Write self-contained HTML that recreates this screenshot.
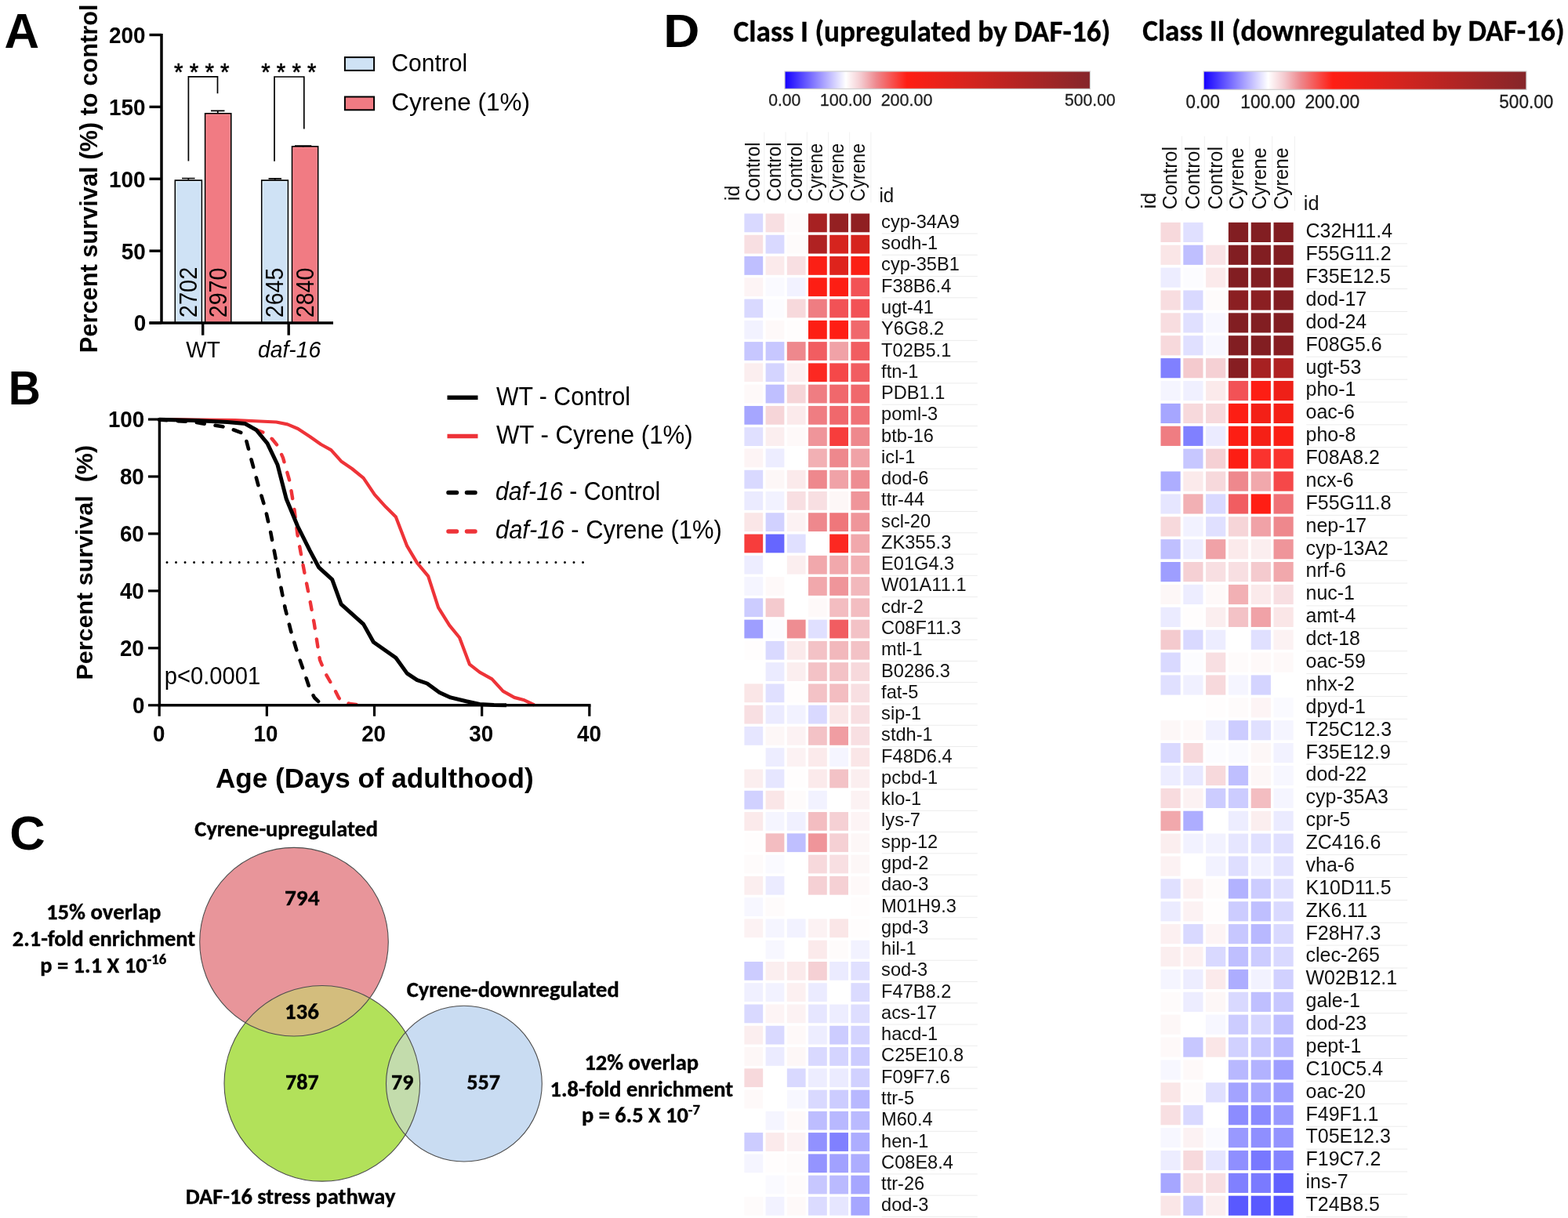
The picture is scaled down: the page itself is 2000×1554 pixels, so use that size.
<!DOCTYPE html>
<html><head><meta charset="utf-8"><title>Figure</title>
<style>html,body{margin:0;padding:0;background:#fff;width:2000px;height:1554px;overflow:hidden}svg{display:block}</style>
</head><body>
<svg width="2000" height="1554" viewBox="0 0 2000 1554">
<defs>
<linearGradient id="cb" x1="0" x2="1" y1="0" y2="0"><stop offset="0" stop-color="#1400ff"/><stop offset="0.2" stop-color="#ffffff"/><stop offset="0.25" stop-color="#f4cacf"/><stop offset="0.3" stop-color="#ee888d"/><stop offset="0.4" stop-color="#ff1e14"/><stop offset="0.6" stop-color="#d6241e"/><stop offset="1" stop-color="#85262a"/></linearGradient>
</defs>
<rect x="0" y="0" width="2000" height="1554" fill="#ffffff"/>
<text x="5.56" y="61.2" font-family="'Liberation Sans', Arial, Helvetica, sans-serif" font-size="63.5" font-weight="bold" textLength="44.55" lengthAdjust="spacingAndGlyphs" xml:space="preserve">A</text>
<text x="10.64" y="516.4" font-family="'Liberation Sans', Arial, Helvetica, sans-serif" font-size="60.5" font-weight="bold" textLength="41.1" lengthAdjust="spacingAndGlyphs" xml:space="preserve">B</text>
<text x="12.22" y="1083.6" font-family="'Liberation Sans', Arial, Helvetica, sans-serif" font-size="60.5" font-weight="bold" textLength="45.45" lengthAdjust="spacingAndGlyphs" xml:space="preserve">C</text>
<text x="846.17" y="60" font-family="'Liberation Sans', Arial, Helvetica, sans-serif" font-size="59" font-weight="bold" textLength="46.16" lengthAdjust="spacingAndGlyphs" xml:space="preserve">D</text>
<rect x="223.4" y="230.09" width="33.9" height="181.91" fill="#cfe2f5" stroke="#000" stroke-width="1.7"/>
<rect x="224.9" y="231.59" width="30.9" height="178.91" fill="none" stroke="#e4f3fe" stroke-width="1.1"/>
<rect x="261.7" y="144.83" width="33" height="267.17" fill="#f17b83" stroke="#000" stroke-width="1.7"/>
<rect x="263.2" y="146.33" width="30" height="264.17" fill="none" stroke="#ff8d95" stroke-width="1.1"/>
<rect x="333.8" y="230.09" width="33.5" height="181.91" fill="#cfe2f5" stroke="#000" stroke-width="1.7"/>
<rect x="335.3" y="231.59" width="30.5" height="178.91" fill="none" stroke="#e4f3fe" stroke-width="1.1"/>
<rect x="372.6" y="186.91" width="33" height="225.09" fill="#f17b83" stroke="#000" stroke-width="1.7"/>
<rect x="374.1" y="188.41" width="30" height="222.09" fill="none" stroke="#ff8d95" stroke-width="1.1"/>
<path d="M232,227.5 H248.6 M240.3,227.5 V229.5" stroke="#000" stroke-width="1.7" fill="none"/>
<path d="M269,141.3 H286.5 M277.75,141.3 V144" stroke="#000" stroke-width="1.7" fill="none"/>
<path d="M342.5,227.8 H359 M350.75,227.8 V229.5" stroke="#000" stroke-width="1.7" fill="none"/>
<path d="M376,186.2 H397.3 M386.65,186.2 V187.5" stroke="#000" stroke-width="1.7" fill="none"/>
<text transform="translate(251.25,405.15) rotate(-90)" font-family="'Liberation Sans', Arial, Helvetica, sans-serif" font-size="30.5" textLength="64.41" lengthAdjust="spacingAndGlyphs" xml:space="preserve">2702</text>
<text transform="translate(289.1,405.13) rotate(-90)" font-family="'Liberation Sans', Arial, Helvetica, sans-serif" font-size="30.5" textLength="63.44" lengthAdjust="spacingAndGlyphs" xml:space="preserve">2970</text>
<text transform="translate(361.45,405.13) rotate(-90)" font-family="'Liberation Sans', Arial, Helvetica, sans-serif" font-size="30.5" textLength="63.44" lengthAdjust="spacingAndGlyphs" xml:space="preserve">2645</text>
<text transform="translate(400,405.13) rotate(-90)" font-family="'Liberation Sans', Arial, Helvetica, sans-serif" font-size="30.5" textLength="63.44" lengthAdjust="spacingAndGlyphs" xml:space="preserve">2840</text>
<path d="M206,43 V413.7 M190.5,412 H425" stroke="#000" stroke-width="3.5" fill="none"/>
<line x1="190.5" y1="412" x2="206" y2="412" stroke="#000" stroke-width="3.4"/>
<line x1="190.5" y1="320.12" x2="206" y2="320.12" stroke="#000" stroke-width="3.4"/>
<line x1="190.5" y1="228.25" x2="206" y2="228.25" stroke="#000" stroke-width="3.4"/>
<line x1="190.5" y1="136.38" x2="206" y2="136.38" stroke="#000" stroke-width="3.4"/>
<line x1="190.5" y1="44.5" x2="206" y2="44.5" stroke="#000" stroke-width="3.4"/>
<line x1="258.7" y1="412" x2="258.7" y2="427.7" stroke="#000" stroke-width="3.4"/>
<line x1="368.2" y1="412" x2="368.2" y2="427.7" stroke="#000" stroke-width="3.4"/>
<text x="170.76" y="422.4" font-family="'Liberation Sans', Arial, Helvetica, sans-serif" font-size="29.8" font-weight="bold" textLength="15.52" lengthAdjust="spacingAndGlyphs" xml:space="preserve">0</text>
<text x="154.85" y="330.52" font-family="'Liberation Sans', Arial, Helvetica, sans-serif" font-size="29.8" font-weight="bold" textLength="31.03" lengthAdjust="spacingAndGlyphs" xml:space="preserve">50</text>
<text x="138.94" y="238.65" font-family="'Liberation Sans', Arial, Helvetica, sans-serif" font-size="29.8" font-weight="bold" textLength="46.54" lengthAdjust="spacingAndGlyphs" xml:space="preserve">100</text>
<text x="138.94" y="146.78" font-family="'Liberation Sans', Arial, Helvetica, sans-serif" font-size="29.8" font-weight="bold" textLength="46.54" lengthAdjust="spacingAndGlyphs" xml:space="preserve">150</text>
<text x="138.94" y="54.9" font-family="'Liberation Sans', Arial, Helvetica, sans-serif" font-size="29.8" font-weight="bold" textLength="46.54" lengthAdjust="spacingAndGlyphs" xml:space="preserve">200</text>
<text x="237.3" y="456.3" font-family="'Liberation Sans', Arial, Helvetica, sans-serif" font-size="29.5" textLength="43.53" lengthAdjust="spacingAndGlyphs" xml:space="preserve">WT</text>
<text x="329.04" y="456.3" font-family="'Liberation Sans', Arial, Helvetica, sans-serif" font-size="29.5" font-style="italic" textLength="80.09" lengthAdjust="spacingAndGlyphs" xml:space="preserve">daf-16</text>
<text transform="translate(124.3,450.25) rotate(-90)" font-family="'Liberation Sans', Arial, Helvetica, sans-serif" font-size="31.5" font-weight="bold" textLength="444.82" lengthAdjust="spacingAndGlyphs" xml:space="preserve">Percent survival (%) to control</text>
<path d="M240.4,205.5 V97.8 H277.5 V119.2 M350,205.8 V98 H387.8 V164.5" stroke="#000" stroke-width="1.7" fill="none"/>
<text x="222.03" y="102.8" font-family="'Liberation Sans', Arial, Helvetica, sans-serif" font-size="30.5" stroke="#000" stroke-width="0.6" textLength="70.54" lengthAdjust="spacingAndGlyphs" xml:space="preserve">* * * *</text>
<text x="333.34" y="102.8" font-family="'Liberation Sans', Arial, Helvetica, sans-serif" font-size="30.5" stroke="#000" stroke-width="0.6" textLength="70.03" lengthAdjust="spacingAndGlyphs" xml:space="preserve">* * * *</text>
<rect x="439.9" y="73.1" width="37.2" height="16.8" fill="#cfe2f5" stroke="#000" stroke-width="2"/>
<rect x="439.9" y="123.5" width="37.2" height="16.8" fill="#f17b83" stroke="#000" stroke-width="2"/>
<text x="499.26" y="91.3" font-family="'Liberation Sans', Arial, Helvetica, sans-serif" font-size="31" textLength="96.92" lengthAdjust="spacingAndGlyphs" xml:space="preserve">Control</text>
<text x="499.17" y="141" font-family="'Liberation Sans', Arial, Helvetica, sans-serif" font-size="31" textLength="176.87" lengthAdjust="spacingAndGlyphs" xml:space="preserve">Cyrene (1%)</text>
<line x1="213" y1="717.42" x2="745" y2="717.42" stroke="#000" stroke-width="3" stroke-linecap="round" stroke-dasharray="0 11.533"/>
<polyline points="203,535 300,536 352.4,538.5 366.7,541.4 380,547 395.2,557 409.4,567 422.3,574.1 435.1,588.4 449,598 463.6,609.8 477.9,631.1 492.1,646.8 504.9,659.6 519.2,696.7 532,718.1 546.2,735.2 559.1,775.1 573.3,797.9 586.1,813.5 599,847.7 611.8,857.7 627.5,866.3 641.7,881.9 656,889.9 668.8,893.3 681.6,899.5" fill="none" stroke="#ee3338" stroke-width="4.2" stroke-linejoin="round"/>
<polyline points="326,548 336.8,552 347,560 353.9,568.4 361,584.1 369.5,614 375.2,648.2 379.5,682.4 385.2,713.8 389.5,736.6 395.2,765.1 400.9,796.4 408,842 415.1,859.1 426.5,879.1 432,890 435.1,894.5 446.5,898 460.7,899.5" fill="none" stroke="#ee3338" stroke-width="4.4" stroke-linejoin="round" stroke-linecap="round" stroke-dasharray="10 14"/>
<polyline points="203,535.5 247,538.5 284,544.2 298.3,548.5 309.7,552.8 314,561.3 321.1,588.4 329.6,619.7 338.2,648.2 345.3,679.6 352.4,716.6 358.1,748 363.8,776.5 371,805 379.5,833.5 389.5,862 395.2,879.1 401,890 406.6,895.5 418,899.5" fill="none" stroke="#000" stroke-width="4.6" stroke-linejoin="round" stroke-linecap="round" stroke-dasharray="10 14"/>
<polyline points="203,535.2 250,536.5 290,538.5 312.5,540.5 326.8,548.5 341,565.6 353.9,592.7 365.3,636.8 379.5,671 395.2,702.4 406.6,723.8 423.7,739.4 435.1,770.8 463.6,796.4 476.4,819.2 504.9,839.2 519.2,859.1 532,867.7 544.8,872 560.5,883.4 574.7,889.9 594.7,894.8 611.8,898.5 630,899.5 646,899.8" fill="none" stroke="#000" stroke-width="5" stroke-linejoin="round"/>
<path d="M203.4,533.5 V901.5 M201.7,899.8 H753.5" stroke="#000" stroke-width="3.4" fill="none"/>
<line x1="189" y1="899.8" x2="203.4" y2="899.8" stroke="#000" stroke-width="3.2"/>
<line x1="189" y1="826.85" x2="203.4" y2="826.85" stroke="#000" stroke-width="3.2"/>
<line x1="189" y1="753.9" x2="203.4" y2="753.9" stroke="#000" stroke-width="3.2"/>
<line x1="189" y1="680.95" x2="203.4" y2="680.95" stroke="#000" stroke-width="3.2"/>
<line x1="189" y1="608" x2="203.4" y2="608" stroke="#000" stroke-width="3.2"/>
<line x1="189" y1="535.05" x2="203.4" y2="535.05" stroke="#000" stroke-width="3.2"/>
<line x1="203.2" y1="899.8" x2="203.2" y2="913.8" stroke="#000" stroke-width="3.2"/>
<line x1="340.35" y1="899.8" x2="340.35" y2="913.8" stroke="#000" stroke-width="3.2"/>
<line x1="477.5" y1="899.8" x2="477.5" y2="913.8" stroke="#000" stroke-width="3.2"/>
<line x1="614.65" y1="899.8" x2="614.65" y2="913.8" stroke="#000" stroke-width="3.2"/>
<line x1="751.8" y1="899.8" x2="751.8" y2="913.8" stroke="#000" stroke-width="3.2"/>
<text x="168.9" y="910.1" font-family="'Liberation Sans', Arial, Helvetica, sans-serif" font-size="29.5" font-weight="bold" textLength="15.44" lengthAdjust="spacingAndGlyphs" xml:space="preserve">0</text>
<text x="152.92" y="837.15" font-family="'Liberation Sans', Arial, Helvetica, sans-serif" font-size="29.5" font-weight="bold" textLength="30.86" lengthAdjust="spacingAndGlyphs" xml:space="preserve">20</text>
<text x="152.92" y="764.2" font-family="'Liberation Sans', Arial, Helvetica, sans-serif" font-size="29.5" font-weight="bold" textLength="30.86" lengthAdjust="spacingAndGlyphs" xml:space="preserve">40</text>
<text x="152.92" y="691.25" font-family="'Liberation Sans', Arial, Helvetica, sans-serif" font-size="29.5" font-weight="bold" textLength="30.86" lengthAdjust="spacingAndGlyphs" xml:space="preserve">60</text>
<text x="152.92" y="618.3" font-family="'Liberation Sans', Arial, Helvetica, sans-serif" font-size="29.5" font-weight="bold" textLength="30.86" lengthAdjust="spacingAndGlyphs" xml:space="preserve">80</text>
<text x="137.88" y="545.35" font-family="'Liberation Sans', Arial, Helvetica, sans-serif" font-size="29.5" font-weight="bold" textLength="46.28" lengthAdjust="spacingAndGlyphs" xml:space="preserve">100</text>
<text x="194.88" y="945.75" font-family="'Liberation Sans', Arial, Helvetica, sans-serif" font-size="29.5" font-weight="bold" textLength="15.44" lengthAdjust="spacingAndGlyphs" xml:space="preserve">0</text>
<text x="323.57" y="945.75" font-family="'Liberation Sans', Arial, Helvetica, sans-serif" font-size="29.5" font-weight="bold" textLength="30.86" lengthAdjust="spacingAndGlyphs" xml:space="preserve">10</text>
<text x="461.19" y="945.75" font-family="'Liberation Sans', Arial, Helvetica, sans-serif" font-size="29.5" font-weight="bold" textLength="30.86" lengthAdjust="spacingAndGlyphs" xml:space="preserve">20</text>
<text x="598.34" y="945.75" font-family="'Liberation Sans', Arial, Helvetica, sans-serif" font-size="29.5" font-weight="bold" textLength="30.86" lengthAdjust="spacingAndGlyphs" xml:space="preserve">30</text>
<text x="735.96" y="945.75" font-family="'Liberation Sans', Arial, Helvetica, sans-serif" font-size="29.5" font-weight="bold" textLength="30.86" lengthAdjust="spacingAndGlyphs" xml:space="preserve">40</text>
<text x="275" y="1005.3" font-family="'Liberation Sans', Arial, Helvetica, sans-serif" font-size="35" font-weight="bold" textLength="405.64" lengthAdjust="spacingAndGlyphs" xml:space="preserve">Age (Days of adulthood)</text>
<text transform="translate(118.2,867.51) rotate(-90)" font-family="'Liberation Sans', Arial, Helvetica, sans-serif" font-size="30.3" font-weight="bold" textLength="299.56" lengthAdjust="spacingAndGlyphs" xml:space="preserve">Percent survival  (%)</text>
<text x="209.79" y="872.9" font-family="'Liberation Sans', Arial, Helvetica, sans-serif" font-size="32.2" textLength="122.46" lengthAdjust="spacingAndGlyphs" xml:space="preserve">p&lt;0.0001</text>
<line x1="570.5" y1="507.3" x2="609.5" y2="507.3" stroke="#000" stroke-width="5.5"/>
<line x1="570.5" y1="556.4" x2="609.5" y2="556.4" stroke="#ee3338" stroke-width="5.5"/>
<line x1="572" y1="628.6" x2="608" y2="628.6" stroke="#000" stroke-width="5.5" stroke-linecap="round" stroke-dasharray="10.5 13"/>
<line x1="572" y1="678" x2="608" y2="678" stroke="#ee3338" stroke-width="5.5" stroke-linecap="round" stroke-dasharray="10.5 13"/>
<text x="632.9" y="516.7" font-family="'Liberation Sans', Arial, Helvetica, sans-serif" font-size="32.5" textLength="171.12" lengthAdjust="spacingAndGlyphs" xml:space="preserve">WT - Control</text>
<text x="632.9" y="565.8" font-family="'Liberation Sans', Arial, Helvetica, sans-serif" font-size="32.5" textLength="250.76" lengthAdjust="spacingAndGlyphs" xml:space="preserve">WT - Cyrene (1%)</text>
<text x="631.97" y="638" font-family="'Liberation Sans', Arial, Helvetica, sans-serif" font-size="32.5" textLength="210.32" lengthAdjust="spacingAndGlyphs" xml:space="preserve"><tspan font-style="italic">daf-16</tspan> - Control</text>
<text x="631.95" y="687" font-family="'Liberation Sans', Arial, Helvetica, sans-serif" font-size="32.5" textLength="288.95" lengthAdjust="spacingAndGlyphs" xml:space="preserve"><tspan font-style="italic">daf-16</tspan> - Cyrene (1%)</text>
<defs><clipPath id="cg"><circle cx="410.8" cy="1382.35" r="124.8"/></clipPath></defs>
<circle cx="410.8" cy="1382.35" r="124.8" fill="#b2e15a"/>
<circle cx="591.9" cy="1382.6" r="99.4" fill="#c9dcf2"/>
<circle cx="375.0" cy="1201.7" r="120.3" fill="#e8959a"/>
<circle cx="375.0" cy="1201.7" r="120.3" fill="#d3bd7d" clip-path="url(#cg)"/>
<circle cx="591.9" cy="1382.6" r="99.4" fill="#c3dcac" clip-path="url(#cg)"/>
<circle cx="375.0" cy="1201.7" r="120.3" fill="none" stroke="#4d4d4d" stroke-width="1.1"/>
<circle cx="410.8" cy="1382.35" r="124.8" fill="none" stroke="#4d4d4d" stroke-width="1.1"/>
<circle cx="591.9" cy="1382.6" r="99.4" fill="none" stroke="#4d4d4d" stroke-width="1.1"/>
<text x="248.37" y="1066.5" font-family="Carlito, Calibri, 'Liberation Sans', sans-serif" font-size="27.5" font-weight="bold" stroke="#000" stroke-width="0.35" textLength="233.68" lengthAdjust="spacingAndGlyphs" xml:space="preserve">Cyrene-upregulated</text>
<text x="362.95" y="1154.8" font-family="Carlito, Calibri, 'Liberation Sans', sans-serif" font-size="28" font-weight="bold" stroke="#000" stroke-width="0.35" textLength="44.55" lengthAdjust="spacingAndGlyphs" xml:space="preserve">794</text>
<text x="362.94" y="1299.5" font-family="Carlito, Calibri, 'Liberation Sans', sans-serif" font-size="28" font-weight="bold" stroke="#000" stroke-width="0.35" textLength="43.91" lengthAdjust="spacingAndGlyphs" xml:space="preserve">136</text>
<text x="364" y="1390" font-family="Carlito, Calibri, 'Liberation Sans', sans-serif" font-size="28" font-weight="bold" stroke="#000" stroke-width="0.35" textLength="42.58" lengthAdjust="spacingAndGlyphs" xml:space="preserve">787</text>
<text x="499" y="1390" font-family="Carlito, Calibri, 'Liberation Sans', sans-serif" font-size="28" font-weight="bold" stroke="#000" stroke-width="0.35" textLength="28.39" lengthAdjust="spacingAndGlyphs" xml:space="preserve">79</text>
<text x="595.24" y="1390" font-family="Carlito, Calibri, 'Liberation Sans', sans-serif" font-size="28" font-weight="bold" stroke="#000" stroke-width="0.35" textLength="42.84" lengthAdjust="spacingAndGlyphs" xml:space="preserve">557</text>
<text x="518.76" y="1271.5" font-family="Carlito, Calibri, 'Liberation Sans', sans-serif" font-size="27.5" font-weight="bold" stroke="#000" stroke-width="0.35" textLength="270.93" lengthAdjust="spacingAndGlyphs" xml:space="preserve">Cyrene-downregulated</text>
<text x="236.68" y="1536.25" font-family="Carlito, Calibri, 'Liberation Sans', sans-serif" font-size="27.5" font-weight="bold" stroke="#000" stroke-width="0.35" textLength="267.7" lengthAdjust="spacingAndGlyphs" xml:space="preserve">DAF-16 stress pathway</text>
<text x="59.01" y="1173" font-family="Carlito, Calibri, 'Liberation Sans', sans-serif" font-size="27.5" font-weight="bold" stroke="#000" stroke-width="0.35" textLength="146.46" lengthAdjust="spacingAndGlyphs" xml:space="preserve">15% overlap</text>
<text x="15.87" y="1206.8" font-family="Carlito, Calibri, 'Liberation Sans', sans-serif" font-size="27.5" font-weight="bold" stroke="#000" stroke-width="0.35" textLength="233.35" lengthAdjust="spacingAndGlyphs" xml:space="preserve">2.1-fold enrichment</text>
<text x="51.23" y="1240.6" font-family="Carlito, Calibri, 'Liberation Sans', sans-serif" font-size="27.5" font-weight="bold" stroke="#000" stroke-width="0.35" textLength="161.03" lengthAdjust="spacingAndGlyphs" xml:space="preserve">p = 1.1 X 10<tspan font-size="18" dy="-10.5">-16</tspan></text>
<text x="745.42" y="1364.9" font-family="Carlito, Calibri, 'Liberation Sans', sans-serif" font-size="27.5" font-weight="bold" stroke="#000" stroke-width="0.35" textLength="145.64" lengthAdjust="spacingAndGlyphs" xml:space="preserve">12% overlap</text>
<text x="701.53" y="1398.6" font-family="Carlito, Calibri, 'Liberation Sans', sans-serif" font-size="27.5" font-weight="bold" stroke="#000" stroke-width="0.35" textLength="233.69" lengthAdjust="spacingAndGlyphs" xml:space="preserve">1.8-fold enrichment</text>
<text x="742.04" y="1432.4" font-family="Carlito, Calibri, 'Liberation Sans', sans-serif" font-size="27.5" font-weight="bold" stroke="#000" stroke-width="0.35" textLength="150.89" lengthAdjust="spacingAndGlyphs" xml:space="preserve">p = 6.5 X 10<tspan font-size="18" dy="-10.5">-7</tspan></text>
<text x="935.6" y="52.5" font-family="Carlito, Calibri, 'Liberation Sans', sans-serif" font-size="37.3" font-weight="bold" stroke="#000" stroke-width="0.3" textLength="480.77" lengthAdjust="spacingAndGlyphs" xml:space="preserve">Class I (upregulated by DAF-16)</text>
<rect x="1001" y="91" width="389.5" height="22.4" fill="url(#cb)" stroke="#cfcfcf" stroke-width="1.2"/>
<text x="980.26" y="135.3" font-family="'Liberation Sans', Arial, Helvetica, sans-serif" font-size="22.5" fill="#1e1e1e" stroke="#1e1e1e" stroke-width="0.3" textLength="41.09" lengthAdjust="spacingAndGlyphs" xml:space="preserve">0.00</text>
<text x="1045.68" y="135.3" font-family="'Liberation Sans', Arial, Helvetica, sans-serif" font-size="22.5" fill="#1e1e1e" stroke="#1e1e1e" stroke-width="0.3" textLength="66.22" lengthAdjust="spacingAndGlyphs" xml:space="preserve">100.00</text>
<text x="1123.64" y="135.3" font-family="'Liberation Sans', Arial, Helvetica, sans-serif" font-size="22.5" fill="#1e1e1e" stroke="#1e1e1e" stroke-width="0.3" textLength="65.85" lengthAdjust="spacingAndGlyphs" xml:space="preserve">200.00</text>
<text x="1358.06" y="135.3" font-family="'Liberation Sans', Arial, Helvetica, sans-serif" font-size="22.5" fill="#1e1e1e" stroke="#1e1e1e" stroke-width="0.3" textLength="64.72" lengthAdjust="spacingAndGlyphs" xml:space="preserve">500.00</text>
<line x1="974.9" y1="168.5" x2="974.9" y2="258.5" stroke="#f1f1f1" stroke-width="1"/>
<line x1="1002.1" y1="168.5" x2="1002.1" y2="258.5" stroke="#f1f1f1" stroke-width="1"/>
<line x1="1029.3" y1="168.5" x2="1029.3" y2="258.5" stroke="#f1f1f1" stroke-width="1"/>
<line x1="1056.5" y1="168.5" x2="1056.5" y2="258.5" stroke="#f1f1f1" stroke-width="1"/>
<line x1="1083.7" y1="168.5" x2="1083.7" y2="258.5" stroke="#f1f1f1" stroke-width="1"/>
<line x1="1110.9" y1="168.5" x2="1110.9" y2="258.5" stroke="#f1f1f1" stroke-width="1"/>
<text transform="translate(968.7,256.94) rotate(-90)" font-family="'Liberation Sans', Arial, Helvetica, sans-serif" font-size="25" fill="#111" textLength="75.43" lengthAdjust="spacingAndGlyphs" xml:space="preserve">Control</text>
<text transform="translate(995.9,256.94) rotate(-90)" font-family="'Liberation Sans', Arial, Helvetica, sans-serif" font-size="25" fill="#111" textLength="75.43" lengthAdjust="spacingAndGlyphs" xml:space="preserve">Control</text>
<text transform="translate(1023.1,256.94) rotate(-90)" font-family="'Liberation Sans', Arial, Helvetica, sans-serif" font-size="25" fill="#111" textLength="75.43" lengthAdjust="spacingAndGlyphs" xml:space="preserve">Control</text>
<text transform="translate(1048.9,256.92) rotate(-90)" font-family="'Liberation Sans', Arial, Helvetica, sans-serif" font-size="25" fill="#111" textLength="73.96" lengthAdjust="spacingAndGlyphs" xml:space="preserve">Cyrene</text>
<text transform="translate(1076.1,256.92) rotate(-90)" font-family="'Liberation Sans', Arial, Helvetica, sans-serif" font-size="25" fill="#111" textLength="73.96" lengthAdjust="spacingAndGlyphs" xml:space="preserve">Cyrene</text>
<text transform="translate(1103.3,256.92) rotate(-90)" font-family="'Liberation Sans', Arial, Helvetica, sans-serif" font-size="25" fill="#111" textLength="73.96" lengthAdjust="spacingAndGlyphs" xml:space="preserve">Cyrene</text>
<text transform="translate(943.2,256.22) rotate(-90)" font-family="'Liberation Sans', Arial, Helvetica, sans-serif" font-size="25" fill="#111" textLength="19.71" lengthAdjust="spacingAndGlyphs" xml:space="preserve">id</text>
<text x="1121.47" y="257.8" font-family="'Liberation Sans', Arial, Helvetica, sans-serif" font-size="25" fill="#111" textLength="18.74" lengthAdjust="spacingAndGlyphs" xml:space="preserve">id</text>
<rect x="949.4" y="272.5" width="23.8" height="23.8" fill="#d9d9ff"/>
<rect x="976.6" y="272.5" width="23.8" height="23.8" fill="#f8dfe2"/>
<rect x="1003.8" y="272.5" width="23.8" height="23.8" fill="#fefbfb"/>
<rect x="1031" y="272.5" width="23.8" height="23.8" fill="#a72122"/>
<rect x="1058.2" y="272.5" width="23.8" height="23.8" fill="#942022"/>
<rect x="1085.4" y="272.5" width="23.8" height="23.8" fill="#901f22"/>
<rect x="949.4" y="299.77" width="23.8" height="23.8" fill="#f8dfe2"/>
<rect x="976.6" y="299.77" width="23.8" height="23.8" fill="#d9d9ff"/>
<rect x="1003.8" y="299.77" width="23.8" height="23.8" fill="#fefbfb"/>
<rect x="1031" y="299.77" width="23.8" height="23.8" fill="#b02222"/>
<rect x="1058.2" y="299.77" width="23.8" height="23.8" fill="#d6241e"/>
<rect x="1085.4" y="299.77" width="23.8" height="23.8" fill="#d6241e"/>
<rect x="949.4" y="327.04" width="23.8" height="23.8" fill="#bfbfff"/>
<rect x="976.6" y="327.04" width="23.8" height="23.8" fill="#fbeaeb"/>
<rect x="1003.8" y="327.04" width="23.8" height="23.8" fill="#f8dfe2"/>
<rect x="1031" y="327.04" width="23.8" height="23.8" fill="#fb1f15"/>
<rect x="1058.2" y="327.04" width="23.8" height="23.8" fill="#de231c"/>
<rect x="1085.4" y="327.04" width="23.8" height="23.8" fill="#fb1f15"/>
<rect x="949.4" y="354.31" width="23.8" height="23.8" fill="#fdf4f5"/>
<rect x="976.6" y="354.31" width="23.8" height="23.8" fill="#fafaff"/>
<rect x="1003.8" y="354.31" width="23.8" height="23.8" fill="#f2f2ff"/>
<rect x="1031" y="354.31" width="23.8" height="23.8" fill="#fd1e14"/>
<rect x="1058.2" y="354.31" width="23.8" height="23.8" fill="#fd1e14"/>
<rect x="1085.4" y="354.31" width="23.8" height="23.8" fill="#f25256"/>
<rect x="949.4" y="381.58" width="23.8" height="23.8" fill="#d9d9ff"/>
<rect x="976.6" y="381.58" width="23.8" height="23.8" fill="#fcfcff"/>
<rect x="1003.8" y="381.58" width="23.8" height="23.8" fill="#f7d9dc"/>
<rect x="1031" y="381.58" width="23.8" height="23.8" fill="#ef7d82"/>
<rect x="1058.2" y="381.58" width="23.8" height="23.8" fill="#f25256"/>
<rect x="1085.4" y="381.58" width="23.8" height="23.8" fill="#f25256"/>
<rect x="949.4" y="408.85" width="23.8" height="23.8" fill="#f2f2ff"/>
<rect x="976.6" y="408.85" width="23.8" height="23.8" fill="#fef9f9"/>
<rect x="1003.8" y="408.85" width="23.8" height="23.8" fill="#fffdfd"/>
<rect x="1031" y="408.85" width="23.8" height="23.8" fill="#fd1e14"/>
<rect x="1058.2" y="408.85" width="23.8" height="23.8" fill="#ff1e14"/>
<rect x="1085.4" y="408.85" width="23.8" height="23.8" fill="#f0686c"/>
<rect x="949.4" y="436.12" width="23.8" height="23.8" fill="#c7c7ff"/>
<rect x="976.6" y="436.12" width="23.8" height="23.8" fill="#c7c7ff"/>
<rect x="1003.8" y="436.12" width="23.8" height="23.8" fill="#ee888d"/>
<rect x="1031" y="436.12" width="23.8" height="23.8" fill="#f15d61"/>
<rect x="1058.2" y="436.12" width="23.8" height="23.8" fill="#f0a2a7"/>
<rect x="1085.4" y="436.12" width="23.8" height="23.8" fill="#f15d61"/>
<rect x="949.4" y="463.39" width="23.8" height="23.8" fill="#fbeeef"/>
<rect x="976.6" y="463.39" width="23.8" height="23.8" fill="#d4d4ff"/>
<rect x="1003.8" y="463.39" width="23.8" height="23.8" fill="#fcf0f1"/>
<rect x="1031" y="463.39" width="23.8" height="23.8" fill="#fc2821"/>
<rect x="1058.2" y="463.39" width="23.8" height="23.8" fill="#f54849"/>
<rect x="1085.4" y="463.39" width="23.8" height="23.8" fill="#f15d61"/>
<rect x="949.4" y="490.66" width="23.8" height="23.8" fill="#fef9f9"/>
<rect x="976.6" y="490.66" width="23.8" height="23.8" fill="#bfbfff"/>
<rect x="1003.8" y="490.66" width="23.8" height="23.8" fill="#f6d5d8"/>
<rect x="1031" y="490.66" width="23.8" height="23.8" fill="#ef7d82"/>
<rect x="1058.2" y="490.66" width="23.8" height="23.8" fill="#f0686c"/>
<rect x="1085.4" y="490.66" width="23.8" height="23.8" fill="#f0686c"/>
<rect x="949.4" y="517.93" width="23.8" height="23.8" fill="#a6a6ff"/>
<rect x="976.6" y="517.93" width="23.8" height="23.8" fill="#f6d5d8"/>
<rect x="1003.8" y="517.93" width="23.8" height="23.8" fill="#fbeaeb"/>
<rect x="1031" y="517.93" width="23.8" height="23.8" fill="#ef7d82"/>
<rect x="1058.2" y="517.93" width="23.8" height="23.8" fill="#f0686c"/>
<rect x="1085.4" y="517.93" width="23.8" height="23.8" fill="#f07277"/>
<rect x="949.4" y="545.2" width="23.8" height="23.8" fill="#e0e0ff"/>
<rect x="976.6" y="545.2" width="23.8" height="23.8" fill="#fbeeef"/>
<rect x="1003.8" y="545.2" width="23.8" height="23.8" fill="#fef9f9"/>
<rect x="1031" y="545.2" width="23.8" height="23.8" fill="#ef959a"/>
<rect x="1058.2" y="545.2" width="23.8" height="23.8" fill="#f73d3c"/>
<rect x="1085.4" y="545.2" width="23.8" height="23.8" fill="#ee888d"/>
<rect x="949.4" y="572.47" width="23.8" height="23.8" fill="#fdf4f5"/>
<rect x="976.6" y="572.47" width="23.8" height="23.8" fill="#ededff"/>
<rect x="1003.8" y="572.47" width="23.8" height="23.8" fill="#ffffff"/>
<rect x="1031" y="572.47" width="23.8" height="23.8" fill="#f2b0b4"/>
<rect x="1058.2" y="572.47" width="23.8" height="23.8" fill="#ee888d"/>
<rect x="1085.4" y="572.47" width="23.8" height="23.8" fill="#f0a2a7"/>
<rect x="949.4" y="599.74" width="23.8" height="23.8" fill="#d9d9ff"/>
<rect x="976.6" y="599.74" width="23.8" height="23.8" fill="#fdf7f7"/>
<rect x="1003.8" y="599.74" width="23.8" height="23.8" fill="#fbeaeb"/>
<rect x="1031" y="599.74" width="23.8" height="23.8" fill="#ee888d"/>
<rect x="1058.2" y="599.74" width="23.8" height="23.8" fill="#f0a2a7"/>
<rect x="1085.4" y="599.74" width="23.8" height="23.8" fill="#ee8d92"/>
<rect x="949.4" y="627.01" width="23.8" height="23.8" fill="#ebebff"/>
<rect x="976.6" y="627.01" width="23.8" height="23.8" fill="#f2f2ff"/>
<rect x="1003.8" y="627.01" width="23.8" height="23.8" fill="#f8dfe2"/>
<rect x="1031" y="627.01" width="23.8" height="23.8" fill="#f8dfe2"/>
<rect x="1058.2" y="627.01" width="23.8" height="23.8" fill="#fdf7f7"/>
<rect x="1085.4" y="627.01" width="23.8" height="23.8" fill="#ef959a"/>
<rect x="949.4" y="654.28" width="23.8" height="23.8" fill="#fae6e7"/>
<rect x="976.6" y="654.28" width="23.8" height="23.8" fill="#d1d1ff"/>
<rect x="1003.8" y="654.28" width="23.8" height="23.8" fill="#fcf2f3"/>
<rect x="1031" y="654.28" width="23.8" height="23.8" fill="#ee888d"/>
<rect x="1058.2" y="654.28" width="23.8" height="23.8" fill="#ef777b"/>
<rect x="1085.4" y="654.28" width="23.8" height="23.8" fill="#ef959a"/>
<rect x="949.4" y="681.55" width="23.8" height="23.8" fill="#f73d3c"/>
<rect x="976.6" y="681.55" width="23.8" height="23.8" fill="#6666ff"/>
<rect x="1003.8" y="681.55" width="23.8" height="23.8" fill="#e0e0ff"/>
<rect x="1031" y="681.55" width="23.8" height="23.8" fill="#ffffff"/>
<rect x="1058.2" y="681.55" width="23.8" height="23.8" fill="#fc2821"/>
<rect x="1085.4" y="681.55" width="23.8" height="23.8" fill="#f1a8ac"/>
<rect x="949.4" y="708.82" width="23.8" height="23.8" fill="#ededff"/>
<rect x="976.6" y="708.82" width="23.8" height="23.8" fill="#ffffff"/>
<rect x="1003.8" y="708.82" width="23.8" height="23.8" fill="#fbeeef"/>
<rect x="1031" y="708.82" width="23.8" height="23.8" fill="#f1a8ac"/>
<rect x="1058.2" y="708.82" width="23.8" height="23.8" fill="#f1a8ac"/>
<rect x="1085.4" y="708.82" width="23.8" height="23.8" fill="#f2b0b4"/>
<rect x="949.4" y="736.09" width="23.8" height="23.8" fill="#f5f5ff"/>
<rect x="976.6" y="736.09" width="23.8" height="23.8" fill="#fef9f9"/>
<rect x="1003.8" y="736.09" width="23.8" height="23.8" fill="#ffffff"/>
<rect x="1031" y="736.09" width="23.8" height="23.8" fill="#f1a8ac"/>
<rect x="1058.2" y="736.09" width="23.8" height="23.8" fill="#ef959a"/>
<rect x="1085.4" y="736.09" width="23.8" height="23.8" fill="#f2b8bc"/>
<rect x="949.4" y="763.36" width="23.8" height="23.8" fill="#ccccff"/>
<rect x="976.6" y="763.36" width="23.8" height="23.8" fill="#f4cace"/>
<rect x="1003.8" y="763.36" width="23.8" height="23.8" fill="#ffffff"/>
<rect x="1031" y="763.36" width="23.8" height="23.8" fill="#fef9f9"/>
<rect x="1058.2" y="763.36" width="23.8" height="23.8" fill="#f3bdc1"/>
<rect x="1085.4" y="763.36" width="23.8" height="23.8" fill="#f3bdc1"/>
<rect x="949.4" y="790.63" width="23.8" height="23.8" fill="#9e9eff"/>
<rect x="976.6" y="790.63" width="23.8" height="23.8" fill="#fcfcff"/>
<rect x="1003.8" y="790.63" width="23.8" height="23.8" fill="#ee8d92"/>
<rect x="1031" y="790.63" width="23.8" height="23.8" fill="#e0e0ff"/>
<rect x="1058.2" y="790.63" width="23.8" height="23.8" fill="#f15d61"/>
<rect x="1085.4" y="790.63" width="23.8" height="23.8" fill="#f3c2c6"/>
<rect x="949.4" y="817.9" width="23.8" height="23.8" fill="#fffdfd"/>
<rect x="976.6" y="817.9" width="23.8" height="23.8" fill="#d9d9ff"/>
<rect x="1003.8" y="817.9" width="23.8" height="23.8" fill="#fbeaeb"/>
<rect x="1031" y="817.9" width="23.8" height="23.8" fill="#f3c2c6"/>
<rect x="1058.2" y="817.9" width="23.8" height="23.8" fill="#f2b8bc"/>
<rect x="1085.4" y="817.9" width="23.8" height="23.8" fill="#f3c2c6"/>
<rect x="949.4" y="845.17" width="23.8" height="23.8" fill="#ffffff"/>
<rect x="976.6" y="845.17" width="23.8" height="23.8" fill="#ebebff"/>
<rect x="1003.8" y="845.17" width="23.8" height="23.8" fill="#fbeeef"/>
<rect x="1031" y="845.17" width="23.8" height="23.8" fill="#f3c2c6"/>
<rect x="1058.2" y="845.17" width="23.8" height="23.8" fill="#f3c2c6"/>
<rect x="1085.4" y="845.17" width="23.8" height="23.8" fill="#f7d9dc"/>
<rect x="949.4" y="872.44" width="23.8" height="23.8" fill="#fae6e7"/>
<rect x="976.6" y="872.44" width="23.8" height="23.8" fill="#e0e0ff"/>
<rect x="1003.8" y="872.44" width="23.8" height="23.8" fill="#fffdfd"/>
<rect x="1031" y="872.44" width="23.8" height="23.8" fill="#f3c2c6"/>
<rect x="1058.2" y="872.44" width="23.8" height="23.8" fill="#f3bdc1"/>
<rect x="1085.4" y="872.44" width="23.8" height="23.8" fill="#f8dfe2"/>
<rect x="949.4" y="899.71" width="23.8" height="23.8" fill="#f8dfe2"/>
<rect x="976.6" y="899.71" width="23.8" height="23.8" fill="#ebebff"/>
<rect x="1003.8" y="899.71" width="23.8" height="23.8" fill="#f2f2ff"/>
<rect x="1031" y="899.71" width="23.8" height="23.8" fill="#d9d9ff"/>
<rect x="1058.2" y="899.71" width="23.8" height="23.8" fill="#fae6e7"/>
<rect x="1085.4" y="899.71" width="23.8" height="23.8" fill="#f8dfe2"/>
<rect x="949.4" y="926.98" width="23.8" height="23.8" fill="#e6e6ff"/>
<rect x="976.6" y="926.98" width="23.8" height="23.8" fill="#fdf7f7"/>
<rect x="1003.8" y="926.98" width="23.8" height="23.8" fill="#fcf2f3"/>
<rect x="1031" y="926.98" width="23.8" height="23.8" fill="#f3c2c6"/>
<rect x="1058.2" y="926.98" width="23.8" height="23.8" fill="#f09da2"/>
<rect x="1085.4" y="926.98" width="23.8" height="23.8" fill="#f8dfe2"/>
<rect x="949.4" y="954.25" width="23.8" height="23.8" fill="#ffffff"/>
<rect x="976.6" y="954.25" width="23.8" height="23.8" fill="#ededff"/>
<rect x="1003.8" y="954.25" width="23.8" height="23.8" fill="#fcf2f3"/>
<rect x="1031" y="954.25" width="23.8" height="23.8" fill="#fbeaeb"/>
<rect x="1058.2" y="954.25" width="23.8" height="23.8" fill="#f5f5ff"/>
<rect x="1085.4" y="954.25" width="23.8" height="23.8" fill="#fae6e7"/>
<rect x="949.4" y="981.52" width="23.8" height="23.8" fill="#fbeeef"/>
<rect x="976.6" y="981.52" width="23.8" height="23.8" fill="#e6e6ff"/>
<rect x="1003.8" y="981.52" width="23.8" height="23.8" fill="#fffdfd"/>
<rect x="1031" y="981.52" width="23.8" height="23.8" fill="#fbeaeb"/>
<rect x="1058.2" y="981.52" width="23.8" height="23.8" fill="#f3c2c6"/>
<rect x="1085.4" y="981.52" width="23.8" height="23.8" fill="#fbeeef"/>
<rect x="949.4" y="1008.79" width="23.8" height="23.8" fill="#d1d1ff"/>
<rect x="976.6" y="1008.79" width="23.8" height="23.8" fill="#fae6e7"/>
<rect x="1003.8" y="1008.79" width="23.8" height="23.8" fill="#fefbfb"/>
<rect x="1031" y="1008.79" width="23.8" height="23.8" fill="#f2f2ff"/>
<rect x="1058.2" y="1008.79" width="23.8" height="23.8" fill="#ffffff"/>
<rect x="1085.4" y="1008.79" width="23.8" height="23.8" fill="#fcf2f3"/>
<rect x="949.4" y="1036.06" width="23.8" height="23.8" fill="#fbeaeb"/>
<rect x="976.6" y="1036.06" width="23.8" height="23.8" fill="#f5f5ff"/>
<rect x="1003.8" y="1036.06" width="23.8" height="23.8" fill="#f0f0ff"/>
<rect x="1031" y="1036.06" width="23.8" height="23.8" fill="#f3bdc1"/>
<rect x="1058.2" y="1036.06" width="23.8" height="23.8" fill="#f5d0d4"/>
<rect x="1085.4" y="1036.06" width="23.8" height="23.8" fill="#fdf4f5"/>
<rect x="949.4" y="1063.33" width="23.8" height="23.8" fill="#fffdfd"/>
<rect x="976.6" y="1063.33" width="23.8" height="23.8" fill="#f3bdc1"/>
<rect x="1003.8" y="1063.33" width="23.8" height="23.8" fill="#bfbfff"/>
<rect x="1031" y="1063.33" width="23.8" height="23.8" fill="#ef959a"/>
<rect x="1058.2" y="1063.33" width="23.8" height="23.8" fill="#f5d0d4"/>
<rect x="1085.4" y="1063.33" width="23.8" height="23.8" fill="#fdf7f7"/>
<rect x="949.4" y="1090.6" width="23.8" height="23.8" fill="#fefbfb"/>
<rect x="976.6" y="1090.6" width="23.8" height="23.8" fill="#fafaff"/>
<rect x="1003.8" y="1090.6" width="23.8" height="23.8" fill="#ffffff"/>
<rect x="1031" y="1090.6" width="23.8" height="23.8" fill="#f7d9dc"/>
<rect x="1058.2" y="1090.6" width="23.8" height="23.8" fill="#f8dfe2"/>
<rect x="1085.4" y="1090.6" width="23.8" height="23.8" fill="#fdf7f7"/>
<rect x="949.4" y="1117.87" width="23.8" height="23.8" fill="#fbeeef"/>
<rect x="976.6" y="1117.87" width="23.8" height="23.8" fill="#ebebff"/>
<rect x="1003.8" y="1117.87" width="23.8" height="23.8" fill="#ffffff"/>
<rect x="1031" y="1117.87" width="23.8" height="23.8" fill="#f5d0d4"/>
<rect x="1058.2" y="1117.87" width="23.8" height="23.8" fill="#f5d0d4"/>
<rect x="1085.4" y="1117.87" width="23.8" height="23.8" fill="#fef9f9"/>
<rect x="949.4" y="1145.14" width="23.8" height="23.8" fill="#f7f7ff"/>
<rect x="976.6" y="1145.14" width="23.8" height="23.8" fill="#fefbfb"/>
<rect x="1003.8" y="1145.14" width="23.8" height="23.8" fill="#ffffff"/>
<rect x="1031" y="1145.14" width="23.8" height="23.8" fill="#ffffff"/>
<rect x="1058.2" y="1145.14" width="23.8" height="23.8" fill="#ffffff"/>
<rect x="1085.4" y="1145.14" width="23.8" height="23.8" fill="#fffdfd"/>
<rect x="949.4" y="1172.41" width="23.8" height="23.8" fill="#fcf2f3"/>
<rect x="976.6" y="1172.41" width="23.8" height="23.8" fill="#f5f5ff"/>
<rect x="1003.8" y="1172.41" width="23.8" height="23.8" fill="#f2f2ff"/>
<rect x="1031" y="1172.41" width="23.8" height="23.8" fill="#fcf2f3"/>
<rect x="1058.2" y="1172.41" width="23.8" height="23.8" fill="#fae6e7"/>
<rect x="1085.4" y="1172.41" width="23.8" height="23.8" fill="#fffdfd"/>
<rect x="949.4" y="1199.68" width="23.8" height="23.8" fill="#ffffff"/>
<rect x="976.6" y="1199.68" width="23.8" height="23.8" fill="#f7f7ff"/>
<rect x="1003.8" y="1199.68" width="23.8" height="23.8" fill="#ffffff"/>
<rect x="1031" y="1199.68" width="23.8" height="23.8" fill="#fbeaeb"/>
<rect x="1058.2" y="1199.68" width="23.8" height="23.8" fill="#fefbfb"/>
<rect x="1085.4" y="1199.68" width="23.8" height="23.8" fill="#f2f2ff"/>
<rect x="949.4" y="1226.95" width="23.8" height="23.8" fill="#ccccff"/>
<rect x="976.6" y="1226.95" width="23.8" height="23.8" fill="#fbeeef"/>
<rect x="1003.8" y="1226.95" width="23.8" height="23.8" fill="#fbeaeb"/>
<rect x="1031" y="1226.95" width="23.8" height="23.8" fill="#f5d0d4"/>
<rect x="1058.2" y="1226.95" width="23.8" height="23.8" fill="#ebebff"/>
<rect x="1085.4" y="1226.95" width="23.8" height="23.8" fill="#e0e0ff"/>
<rect x="949.4" y="1254.22" width="23.8" height="23.8" fill="#f0f0ff"/>
<rect x="976.6" y="1254.22" width="23.8" height="23.8" fill="#f2f2ff"/>
<rect x="1003.8" y="1254.22" width="23.8" height="23.8" fill="#fcf0f1"/>
<rect x="1031" y="1254.22" width="23.8" height="23.8" fill="#ebebff"/>
<rect x="1058.2" y="1254.22" width="23.8" height="23.8" fill="#ffffff"/>
<rect x="1085.4" y="1254.22" width="23.8" height="23.8" fill="#dbdbff"/>
<rect x="949.4" y="1281.49" width="23.8" height="23.8" fill="#d9d9ff"/>
<rect x="976.6" y="1281.49" width="23.8" height="23.8" fill="#fdf4f5"/>
<rect x="1003.8" y="1281.49" width="23.8" height="23.8" fill="#fcf2f3"/>
<rect x="1031" y="1281.49" width="23.8" height="23.8" fill="#e6e6ff"/>
<rect x="1058.2" y="1281.49" width="23.8" height="23.8" fill="#ededff"/>
<rect x="1085.4" y="1281.49" width="23.8" height="23.8" fill="#dedeff"/>
<rect x="949.4" y="1308.76" width="23.8" height="23.8" fill="#fbeeef"/>
<rect x="976.6" y="1308.76" width="23.8" height="23.8" fill="#d9d9ff"/>
<rect x="1003.8" y="1308.76" width="23.8" height="23.8" fill="#fef9f9"/>
<rect x="1031" y="1308.76" width="23.8" height="23.8" fill="#ededff"/>
<rect x="1058.2" y="1308.76" width="23.8" height="23.8" fill="#ccccff"/>
<rect x="1085.4" y="1308.76" width="23.8" height="23.8" fill="#d4d4ff"/>
<rect x="949.4" y="1336.03" width="23.8" height="23.8" fill="#fdf7f7"/>
<rect x="976.6" y="1336.03" width="23.8" height="23.8" fill="#ebebff"/>
<rect x="1003.8" y="1336.03" width="23.8" height="23.8" fill="#fdf7f7"/>
<rect x="1031" y="1336.03" width="23.8" height="23.8" fill="#d9d9ff"/>
<rect x="1058.2" y="1336.03" width="23.8" height="23.8" fill="#d4d4ff"/>
<rect x="1085.4" y="1336.03" width="23.8" height="23.8" fill="#ccccff"/>
<rect x="949.4" y="1363.3" width="23.8" height="23.8" fill="#f7d9dc"/>
<rect x="976.6" y="1363.3" width="23.8" height="23.8" fill="#ffffff"/>
<rect x="1003.8" y="1363.3" width="23.8" height="23.8" fill="#d9d9ff"/>
<rect x="1031" y="1363.3" width="23.8" height="23.8" fill="#ededff"/>
<rect x="1058.2" y="1363.3" width="23.8" height="23.8" fill="#ebebff"/>
<rect x="1085.4" y="1363.3" width="23.8" height="23.8" fill="#d1d1ff"/>
<rect x="949.4" y="1390.57" width="23.8" height="23.8" fill="#fef9f9"/>
<rect x="976.6" y="1390.57" width="23.8" height="23.8" fill="#ffffff"/>
<rect x="1003.8" y="1390.57" width="23.8" height="23.8" fill="#f7f7ff"/>
<rect x="1031" y="1390.57" width="23.8" height="23.8" fill="#d9d9ff"/>
<rect x="1058.2" y="1390.57" width="23.8" height="23.8" fill="#ccccff"/>
<rect x="1085.4" y="1390.57" width="23.8" height="23.8" fill="#b8b8ff"/>
<rect x="949.4" y="1417.84" width="23.8" height="23.8" fill="#ffffff"/>
<rect x="976.6" y="1417.84" width="23.8" height="23.8" fill="#f5f5ff"/>
<rect x="1003.8" y="1417.84" width="23.8" height="23.8" fill="#fef9f9"/>
<rect x="1031" y="1417.84" width="23.8" height="23.8" fill="#bdbdff"/>
<rect x="1058.2" y="1417.84" width="23.8" height="23.8" fill="#b8b8ff"/>
<rect x="1085.4" y="1417.84" width="23.8" height="23.8" fill="#babaff"/>
<rect x="949.4" y="1445.11" width="23.8" height="23.8" fill="#ccccff"/>
<rect x="976.6" y="1445.11" width="23.8" height="23.8" fill="#fbeaeb"/>
<rect x="1003.8" y="1445.11" width="23.8" height="23.8" fill="#fcf2f3"/>
<rect x="1031" y="1445.11" width="23.8" height="23.8" fill="#9191ff"/>
<rect x="1058.2" y="1445.11" width="23.8" height="23.8" fill="#8080ff"/>
<rect x="1085.4" y="1445.11" width="23.8" height="23.8" fill="#adadff"/>
<rect x="949.4" y="1472.38" width="23.8" height="23.8" fill="#f5f5ff"/>
<rect x="976.6" y="1472.38" width="23.8" height="23.8" fill="#fffdfd"/>
<rect x="1003.8" y="1472.38" width="23.8" height="23.8" fill="#fefbfb"/>
<rect x="1031" y="1472.38" width="23.8" height="23.8" fill="#9494ff"/>
<rect x="1058.2" y="1472.38" width="23.8" height="23.8" fill="#a1a1ff"/>
<rect x="1085.4" y="1472.38" width="23.8" height="23.8" fill="#adadff"/>
<rect x="949.4" y="1499.65" width="23.8" height="23.8" fill="#ffffff"/>
<rect x="976.6" y="1499.65" width="23.8" height="23.8" fill="#fafaff"/>
<rect x="1003.8" y="1499.65" width="23.8" height="23.8" fill="#fefbfb"/>
<rect x="1031" y="1499.65" width="23.8" height="23.8" fill="#c7c7ff"/>
<rect x="1058.2" y="1499.65" width="23.8" height="23.8" fill="#babaff"/>
<rect x="1085.4" y="1499.65" width="23.8" height="23.8" fill="#a6a6ff"/>
<rect x="949.4" y="1526.92" width="23.8" height="23.8" fill="#fefbfb"/>
<rect x="976.6" y="1526.92" width="23.8" height="23.8" fill="#f2f2ff"/>
<rect x="1003.8" y="1526.92" width="23.8" height="23.8" fill="#fef9f9"/>
<rect x="1031" y="1526.92" width="23.8" height="23.8" fill="#dbdbff"/>
<rect x="1058.2" y="1526.92" width="23.8" height="23.8" fill="#e6e6ff"/>
<rect x="1085.4" y="1526.92" width="23.8" height="23.8" fill="#a6a6ff"/>
<line x1="1124.8" y1="298.04" x2="1246.8" y2="298.04" stroke="#ececec" stroke-width="1"/>
<line x1="1124.8" y1="325.31" x2="1246.8" y2="325.31" stroke="#ececec" stroke-width="1"/>
<line x1="1124.8" y1="352.58" x2="1246.8" y2="352.58" stroke="#ececec" stroke-width="1"/>
<line x1="1124.8" y1="379.85" x2="1246.8" y2="379.85" stroke="#ececec" stroke-width="1"/>
<line x1="1124.8" y1="407.12" x2="1246.8" y2="407.12" stroke="#ececec" stroke-width="1"/>
<line x1="1124.8" y1="434.39" x2="1246.8" y2="434.39" stroke="#ececec" stroke-width="1"/>
<line x1="1124.8" y1="461.66" x2="1246.8" y2="461.66" stroke="#ececec" stroke-width="1"/>
<line x1="1124.8" y1="488.93" x2="1246.8" y2="488.93" stroke="#ececec" stroke-width="1"/>
<line x1="1124.8" y1="516.19" x2="1246.8" y2="516.19" stroke="#ececec" stroke-width="1"/>
<line x1="1124.8" y1="543.47" x2="1246.8" y2="543.47" stroke="#ececec" stroke-width="1"/>
<line x1="1124.8" y1="570.74" x2="1246.8" y2="570.74" stroke="#ececec" stroke-width="1"/>
<line x1="1124.8" y1="598" x2="1246.8" y2="598" stroke="#ececec" stroke-width="1"/>
<line x1="1124.8" y1="625.27" x2="1246.8" y2="625.27" stroke="#ececec" stroke-width="1"/>
<line x1="1124.8" y1="652.54" x2="1246.8" y2="652.54" stroke="#ececec" stroke-width="1"/>
<line x1="1124.8" y1="679.81" x2="1246.8" y2="679.81" stroke="#ececec" stroke-width="1"/>
<line x1="1124.8" y1="707.08" x2="1246.8" y2="707.08" stroke="#ececec" stroke-width="1"/>
<line x1="1124.8" y1="734.35" x2="1246.8" y2="734.35" stroke="#ececec" stroke-width="1"/>
<line x1="1124.8" y1="761.62" x2="1246.8" y2="761.62" stroke="#ececec" stroke-width="1"/>
<line x1="1124.8" y1="788.89" x2="1246.8" y2="788.89" stroke="#ececec" stroke-width="1"/>
<line x1="1124.8" y1="816.16" x2="1246.8" y2="816.16" stroke="#ececec" stroke-width="1"/>
<line x1="1124.8" y1="843.43" x2="1246.8" y2="843.43" stroke="#ececec" stroke-width="1"/>
<line x1="1124.8" y1="870.7" x2="1246.8" y2="870.7" stroke="#ececec" stroke-width="1"/>
<line x1="1124.8" y1="897.97" x2="1246.8" y2="897.97" stroke="#ececec" stroke-width="1"/>
<line x1="1124.8" y1="925.25" x2="1246.8" y2="925.25" stroke="#ececec" stroke-width="1"/>
<line x1="1124.8" y1="952.51" x2="1246.8" y2="952.51" stroke="#ececec" stroke-width="1"/>
<line x1="1124.8" y1="979.78" x2="1246.8" y2="979.78" stroke="#ececec" stroke-width="1"/>
<line x1="1124.8" y1="1007.05" x2="1246.8" y2="1007.05" stroke="#ececec" stroke-width="1"/>
<line x1="1124.8" y1="1034.32" x2="1246.8" y2="1034.32" stroke="#ececec" stroke-width="1"/>
<line x1="1124.8" y1="1061.59" x2="1246.8" y2="1061.59" stroke="#ececec" stroke-width="1"/>
<line x1="1124.8" y1="1088.86" x2="1246.8" y2="1088.86" stroke="#ececec" stroke-width="1"/>
<line x1="1124.8" y1="1116.13" x2="1246.8" y2="1116.13" stroke="#ececec" stroke-width="1"/>
<line x1="1124.8" y1="1143.4" x2="1246.8" y2="1143.4" stroke="#ececec" stroke-width="1"/>
<line x1="1124.8" y1="1170.67" x2="1246.8" y2="1170.67" stroke="#ececec" stroke-width="1"/>
<line x1="1124.8" y1="1197.94" x2="1246.8" y2="1197.94" stroke="#ececec" stroke-width="1"/>
<line x1="1124.8" y1="1225.21" x2="1246.8" y2="1225.21" stroke="#ececec" stroke-width="1"/>
<line x1="1124.8" y1="1252.48" x2="1246.8" y2="1252.48" stroke="#ececec" stroke-width="1"/>
<line x1="1124.8" y1="1279.75" x2="1246.8" y2="1279.75" stroke="#ececec" stroke-width="1"/>
<line x1="1124.8" y1="1307.02" x2="1246.8" y2="1307.02" stroke="#ececec" stroke-width="1"/>
<line x1="1124.8" y1="1334.29" x2="1246.8" y2="1334.29" stroke="#ececec" stroke-width="1"/>
<line x1="1124.8" y1="1361.56" x2="1246.8" y2="1361.56" stroke="#ececec" stroke-width="1"/>
<line x1="1124.8" y1="1388.83" x2="1246.8" y2="1388.83" stroke="#ececec" stroke-width="1"/>
<line x1="1124.8" y1="1416.1" x2="1246.8" y2="1416.1" stroke="#ececec" stroke-width="1"/>
<line x1="1124.8" y1="1443.37" x2="1246.8" y2="1443.37" stroke="#ececec" stroke-width="1"/>
<line x1="1124.8" y1="1470.64" x2="1246.8" y2="1470.64" stroke="#ececec" stroke-width="1"/>
<line x1="1124.8" y1="1497.91" x2="1246.8" y2="1497.91" stroke="#ececec" stroke-width="1"/>
<line x1="1124.8" y1="1525.18" x2="1246.8" y2="1525.18" stroke="#ececec" stroke-width="1"/>
<line x1="1124.8" y1="1552.45" x2="1246.8" y2="1552.45" stroke="#ececec" stroke-width="1"/>
<g font-family="'Liberation Sans', Arial, Helvetica, sans-serif" font-size="23.6" fill="#111">
<text x="1124.1" y="290.9">cyp-34A9</text>
<text x="1124.1" y="318.17">sodh-1</text>
<text x="1124.1" y="345.44">cyp-35B1</text>
<text x="1124.1" y="372.71">F38B6.4</text>
<text x="1124.1" y="399.98">ugt-41</text>
<text x="1124.1" y="427.25">Y6G8.2</text>
<text x="1124.1" y="454.52">T02B5.1</text>
<text x="1124.1" y="481.79">ftn-1</text>
<text x="1124.1" y="509.06">PDB1.1</text>
<text x="1124.1" y="536.33">poml-3</text>
<text x="1124.1" y="563.6">btb-16</text>
<text x="1124.1" y="590.87">icl-1</text>
<text x="1124.1" y="618.14">dod-6</text>
<text x="1124.1" y="645.41">ttr-44</text>
<text x="1124.1" y="672.68">scl-20</text>
<text x="1124.1" y="699.95">ZK355.3</text>
<text x="1124.1" y="727.22">E01G4.3</text>
<text x="1124.1" y="754.49">W01A11.1</text>
<text x="1124.1" y="781.76">cdr-2</text>
<text x="1124.1" y="809.03">C08F11.3</text>
<text x="1124.1" y="836.3">mtl-1</text>
<text x="1124.1" y="863.57">B0286.3</text>
<text x="1124.1" y="890.84">fat-5</text>
<text x="1124.1" y="918.11">sip-1</text>
<text x="1124.1" y="945.38">stdh-1</text>
<text x="1124.1" y="972.65">F48D6.4</text>
<text x="1124.1" y="999.92">pcbd-1</text>
<text x="1124.1" y="1027.19">klo-1</text>
<text x="1124.1" y="1054.46">lys-7</text>
<text x="1124.1" y="1081.73">spp-12</text>
<text x="1124.1" y="1109">gpd-2</text>
<text x="1124.1" y="1136.27">dao-3</text>
<text x="1124.1" y="1163.54">M01H9.3</text>
<text x="1124.1" y="1190.81">gpd-3</text>
<text x="1124.1" y="1218.08">hil-1</text>
<text x="1124.1" y="1245.35">sod-3</text>
<text x="1124.1" y="1272.62">F47B8.2</text>
<text x="1124.1" y="1299.89">acs-17</text>
<text x="1124.1" y="1327.16">hacd-1</text>
<text x="1124.1" y="1354.43">C25E10.8</text>
<text x="1124.1" y="1381.7">F09F7.6</text>
<text x="1124.1" y="1408.97">ttr-5</text>
<text x="1124.1" y="1436.24">M60.4</text>
<text x="1124.1" y="1463.51">hen-1</text>
<text x="1124.1" y="1490.78">C08E8.4</text>
<text x="1124.1" y="1518.05">ttr-26</text>
<text x="1124.1" y="1545.32">dod-3</text>
</g>
<text x="1457.2" y="51.8" font-family="Carlito, Calibri, 'Liberation Sans', sans-serif" font-size="37.3" font-weight="bold" stroke="#000" stroke-width="0.3" textLength="538.39" lengthAdjust="spacingAndGlyphs" xml:space="preserve">Class II (downregulated by DAF-16)</text>
<rect x="1535.2" y="91" width="411.7" height="23.3" fill="url(#cb)" stroke="#cfcfcf" stroke-width="1.2"/>
<text x="1512.46" y="137.8" font-family="'Liberation Sans', Arial, Helvetica, sans-serif" font-size="23.8" fill="#1e1e1e" stroke="#1e1e1e" stroke-width="0.3" textLength="43.56" lengthAdjust="spacingAndGlyphs" xml:space="preserve">0.00</text>
<text x="1582.28" y="137.8" font-family="'Liberation Sans', Arial, Helvetica, sans-serif" font-size="23.8" fill="#1e1e1e" stroke="#1e1e1e" stroke-width="0.3" textLength="69.84" lengthAdjust="spacingAndGlyphs" xml:space="preserve">100.00</text>
<text x="1664.44" y="137.8" font-family="'Liberation Sans', Arial, Helvetica, sans-serif" font-size="23.8" fill="#1e1e1e" stroke="#1e1e1e" stroke-width="0.3" textLength="69.78" lengthAdjust="spacingAndGlyphs" xml:space="preserve">200.00</text>
<text x="1912.35" y="137.8" font-family="'Liberation Sans', Arial, Helvetica, sans-serif" font-size="23.8" fill="#1e1e1e" stroke="#1e1e1e" stroke-width="0.3" textLength="68.86" lengthAdjust="spacingAndGlyphs" xml:space="preserve">500.00</text>
<line x1="1507.5" y1="173.81" x2="1507.5" y2="268.99" stroke="#f1f1f1" stroke-width="1"/>
<line x1="1536.3" y1="173.81" x2="1536.3" y2="268.99" stroke="#f1f1f1" stroke-width="1"/>
<line x1="1565.1" y1="173.81" x2="1565.1" y2="268.99" stroke="#f1f1f1" stroke-width="1"/>
<line x1="1593.9" y1="173.81" x2="1593.9" y2="268.99" stroke="#f1f1f1" stroke-width="1"/>
<line x1="1622.7" y1="173.81" x2="1622.7" y2="268.99" stroke="#f1f1f1" stroke-width="1"/>
<line x1="1651.5" y1="173.81" x2="1651.5" y2="268.99" stroke="#f1f1f1" stroke-width="1"/>
<text transform="translate(1500.93,267.29) rotate(-90)" font-family="'Liberation Sans', Arial, Helvetica, sans-serif" font-size="26.44" fill="#111" textLength="80.25" lengthAdjust="spacingAndGlyphs" xml:space="preserve">Control</text>
<text transform="translate(1529.73,267.29) rotate(-90)" font-family="'Liberation Sans', Arial, Helvetica, sans-serif" font-size="26.44" fill="#111" textLength="80.25" lengthAdjust="spacingAndGlyphs" xml:space="preserve">Control</text>
<text transform="translate(1558.53,267.29) rotate(-90)" font-family="'Liberation Sans', Arial, Helvetica, sans-serif" font-size="26.44" fill="#111" textLength="80.25" lengthAdjust="spacingAndGlyphs" xml:space="preserve">Control</text>
<text transform="translate(1585.85,267.27) rotate(-90)" font-family="'Liberation Sans', Arial, Helvetica, sans-serif" font-size="26.44" fill="#111" textLength="78.74" lengthAdjust="spacingAndGlyphs" xml:space="preserve">Cyrene</text>
<text transform="translate(1614.65,267.27) rotate(-90)" font-family="'Liberation Sans', Arial, Helvetica, sans-serif" font-size="26.44" fill="#111" textLength="78.74" lengthAdjust="spacingAndGlyphs" xml:space="preserve">Cyrene</text>
<text transform="translate(1643.45,267.27) rotate(-90)" font-family="'Liberation Sans', Arial, Helvetica, sans-serif" font-size="26.44" fill="#111" textLength="78.74" lengthAdjust="spacingAndGlyphs" xml:space="preserve">Cyrene</text>
<text transform="translate(1473.94,266.46) rotate(-90)" font-family="'Liberation Sans', Arial, Helvetica, sans-serif" font-size="26.44" fill="#111" textLength="20.74" lengthAdjust="spacingAndGlyphs" xml:space="preserve">id</text>
<text x="1662.81" y="268.25" font-family="'Liberation Sans', Arial, Helvetica, sans-serif" font-size="26.44" fill="#111" textLength="19.72" lengthAdjust="spacingAndGlyphs" xml:space="preserve">id</text>
<rect x="1480.5" y="283.8" width="25.2" height="25.2" fill="#f7d9dc"/>
<rect x="1509.3" y="283.8" width="25.2" height="25.2" fill="#e0e0ff"/>
<rect x="1538.1" y="283.8" width="25.2" height="25.2" fill="#ffffff"/>
<rect x="1566.9" y="283.8" width="25.2" height="25.2" fill="#821e22"/>
<rect x="1595.7" y="283.8" width="25.2" height="25.2" fill="#821e22"/>
<rect x="1624.5" y="283.8" width="25.2" height="25.2" fill="#821e22"/>
<rect x="1480.5" y="312.68" width="25.2" height="25.2" fill="#fae6e7"/>
<rect x="1509.3" y="312.68" width="25.2" height="25.2" fill="#bfbfff"/>
<rect x="1538.1" y="312.68" width="25.2" height="25.2" fill="#f9e3e6"/>
<rect x="1566.9" y="312.68" width="25.2" height="25.2" fill="#821e22"/>
<rect x="1595.7" y="312.68" width="25.2" height="25.2" fill="#821e22"/>
<rect x="1624.5" y="312.68" width="25.2" height="25.2" fill="#821e22"/>
<rect x="1480.5" y="341.56" width="25.2" height="25.2" fill="#ededff"/>
<rect x="1509.3" y="341.56" width="25.2" height="25.2" fill="#fcfcff"/>
<rect x="1538.1" y="341.56" width="25.2" height="25.2" fill="#fbeaeb"/>
<rect x="1566.9" y="341.56" width="25.2" height="25.2" fill="#821e22"/>
<rect x="1595.7" y="341.56" width="25.2" height="25.2" fill="#821e22"/>
<rect x="1624.5" y="341.56" width="25.2" height="25.2" fill="#821e22"/>
<rect x="1480.5" y="370.44" width="25.2" height="25.2" fill="#f8dde0"/>
<rect x="1509.3" y="370.44" width="25.2" height="25.2" fill="#d9d9ff"/>
<rect x="1538.1" y="370.44" width="25.2" height="25.2" fill="#fefbfb"/>
<rect x="1566.9" y="370.44" width="25.2" height="25.2" fill="#8b1f22"/>
<rect x="1595.7" y="370.44" width="25.2" height="25.2" fill="#8b1f22"/>
<rect x="1624.5" y="370.44" width="25.2" height="25.2" fill="#821e22"/>
<rect x="1480.5" y="399.32" width="25.2" height="25.2" fill="#f8dde0"/>
<rect x="1509.3" y="399.32" width="25.2" height="25.2" fill="#e0e0ff"/>
<rect x="1538.1" y="399.32" width="25.2" height="25.2" fill="#f7f7ff"/>
<rect x="1566.9" y="399.32" width="25.2" height="25.2" fill="#821e22"/>
<rect x="1595.7" y="399.32" width="25.2" height="25.2" fill="#821e22"/>
<rect x="1624.5" y="399.32" width="25.2" height="25.2" fill="#821e22"/>
<rect x="1480.5" y="428.2" width="25.2" height="25.2" fill="#f7d9dc"/>
<rect x="1509.3" y="428.2" width="25.2" height="25.2" fill="#e0e0ff"/>
<rect x="1538.1" y="428.2" width="25.2" height="25.2" fill="#f7f7ff"/>
<rect x="1566.9" y="428.2" width="25.2" height="25.2" fill="#821e22"/>
<rect x="1595.7" y="428.2" width="25.2" height="25.2" fill="#821e22"/>
<rect x="1624.5" y="428.2" width="25.2" height="25.2" fill="#871e22"/>
<rect x="1480.5" y="457.08" width="25.2" height="25.2" fill="#8080ff"/>
<rect x="1509.3" y="457.08" width="25.2" height="25.2" fill="#f4cace"/>
<rect x="1538.1" y="457.08" width="25.2" height="25.2" fill="#f5d0d4"/>
<rect x="1566.9" y="457.08" width="25.2" height="25.2" fill="#871e22"/>
<rect x="1595.7" y="457.08" width="25.2" height="25.2" fill="#a72122"/>
<rect x="1624.5" y="457.08" width="25.2" height="25.2" fill="#b02222"/>
<rect x="1480.5" y="485.96" width="25.2" height="25.2" fill="#f5f5ff"/>
<rect x="1509.3" y="485.96" width="25.2" height="25.2" fill="#f0f0ff"/>
<rect x="1538.1" y="485.96" width="25.2" height="25.2" fill="#fbeaeb"/>
<rect x="1566.9" y="485.96" width="25.2" height="25.2" fill="#f25256"/>
<rect x="1595.7" y="485.96" width="25.2" height="25.2" fill="#fd1e14"/>
<rect x="1624.5" y="485.96" width="25.2" height="25.2" fill="#ef2018"/>
<rect x="1480.5" y="514.84" width="25.2" height="25.2" fill="#a6a6ff"/>
<rect x="1509.3" y="514.84" width="25.2" height="25.2" fill="#f7d9dc"/>
<rect x="1538.1" y="514.84" width="25.2" height="25.2" fill="#f7d9dc"/>
<rect x="1566.9" y="514.84" width="25.2" height="25.2" fill="#fd1e14"/>
<rect x="1595.7" y="514.84" width="25.2" height="25.2" fill="#f32017"/>
<rect x="1624.5" y="514.84" width="25.2" height="25.2" fill="#f52016"/>
<rect x="1480.5" y="543.72" width="25.2" height="25.2" fill="#ef7d82"/>
<rect x="1509.3" y="543.72" width="25.2" height="25.2" fill="#8080ff"/>
<rect x="1538.1" y="543.72" width="25.2" height="25.2" fill="#ebebff"/>
<rect x="1566.9" y="543.72" width="25.2" height="25.2" fill="#fd1e14"/>
<rect x="1595.7" y="543.72" width="25.2" height="25.2" fill="#f52016"/>
<rect x="1624.5" y="543.72" width="25.2" height="25.2" fill="#fb1f15"/>
<rect x="1480.5" y="572.6" width="25.2" height="25.2" fill="#ffffff"/>
<rect x="1509.3" y="572.6" width="25.2" height="25.2" fill="#c7c7ff"/>
<rect x="1538.1" y="572.6" width="25.2" height="25.2" fill="#f5d0d4"/>
<rect x="1566.9" y="572.6" width="25.2" height="25.2" fill="#fd1e14"/>
<rect x="1595.7" y="572.6" width="25.2" height="25.2" fill="#fa332e"/>
<rect x="1624.5" y="572.6" width="25.2" height="25.2" fill="#fa332e"/>
<rect x="1480.5" y="601.48" width="25.2" height="25.2" fill="#adadff"/>
<rect x="1509.3" y="601.48" width="25.2" height="25.2" fill="#fbeaeb"/>
<rect x="1538.1" y="601.48" width="25.2" height="25.2" fill="#f7d9dc"/>
<rect x="1566.9" y="601.48" width="25.2" height="25.2" fill="#ee888d"/>
<rect x="1595.7" y="601.48" width="25.2" height="25.2" fill="#f1a8ac"/>
<rect x="1624.5" y="601.48" width="25.2" height="25.2" fill="#f54849"/>
<rect x="1480.5" y="630.36" width="25.2" height="25.2" fill="#e6e6ff"/>
<rect x="1509.3" y="630.36" width="25.2" height="25.2" fill="#f2b0b4"/>
<rect x="1538.1" y="630.36" width="25.2" height="25.2" fill="#d9d9ff"/>
<rect x="1566.9" y="630.36" width="25.2" height="25.2" fill="#f15d61"/>
<rect x="1595.7" y="630.36" width="25.2" height="25.2" fill="#ff1e14"/>
<rect x="1624.5" y="630.36" width="25.2" height="25.2" fill="#f07277"/>
<rect x="1480.5" y="659.24" width="25.2" height="25.2" fill="#f7d9dc"/>
<rect x="1509.3" y="659.24" width="25.2" height="25.2" fill="#f2f2ff"/>
<rect x="1538.1" y="659.24" width="25.2" height="25.2" fill="#e0e0ff"/>
<rect x="1566.9" y="659.24" width="25.2" height="25.2" fill="#f6d5d8"/>
<rect x="1595.7" y="659.24" width="25.2" height="25.2" fill="#f0a2a7"/>
<rect x="1624.5" y="659.24" width="25.2" height="25.2" fill="#ee888d"/>
<rect x="1480.5" y="688.12" width="25.2" height="25.2" fill="#bfbfff"/>
<rect x="1509.3" y="688.12" width="25.2" height="25.2" fill="#ededff"/>
<rect x="1538.1" y="688.12" width="25.2" height="25.2" fill="#f0a2a7"/>
<rect x="1566.9" y="688.12" width="25.2" height="25.2" fill="#fbeaeb"/>
<rect x="1595.7" y="688.12" width="25.2" height="25.2" fill="#fbeeef"/>
<rect x="1624.5" y="688.12" width="25.2" height="25.2" fill="#ef959a"/>
<rect x="1480.5" y="717" width="25.2" height="25.2" fill="#9e9eff"/>
<rect x="1509.3" y="717" width="25.2" height="25.2" fill="#f5d0d4"/>
<rect x="1538.1" y="717" width="25.2" height="25.2" fill="#f8dfe2"/>
<rect x="1566.9" y="717" width="25.2" height="25.2" fill="#f8dfe2"/>
<rect x="1595.7" y="717" width="25.2" height="25.2" fill="#f4cace"/>
<rect x="1624.5" y="717" width="25.2" height="25.2" fill="#f1a8ac"/>
<rect x="1480.5" y="745.88" width="25.2" height="25.2" fill="#fdf7f7"/>
<rect x="1509.3" y="745.88" width="25.2" height="25.2" fill="#ededff"/>
<rect x="1538.1" y="745.88" width="25.2" height="25.2" fill="#fef9f9"/>
<rect x="1566.9" y="745.88" width="25.2" height="25.2" fill="#f2b0b4"/>
<rect x="1595.7" y="745.88" width="25.2" height="25.2" fill="#fbeaeb"/>
<rect x="1624.5" y="745.88" width="25.2" height="25.2" fill="#f8dfe2"/>
<rect x="1480.5" y="774.76" width="25.2" height="25.2" fill="#ebebff"/>
<rect x="1509.3" y="774.76" width="25.2" height="25.2" fill="#fffdfd"/>
<rect x="1538.1" y="774.76" width="25.2" height="25.2" fill="#fbeeef"/>
<rect x="1566.9" y="774.76" width="25.2" height="25.2" fill="#f3c2c6"/>
<rect x="1595.7" y="774.76" width="25.2" height="25.2" fill="#f0a2a7"/>
<rect x="1624.5" y="774.76" width="25.2" height="25.2" fill="#fae6e7"/>
<rect x="1480.5" y="803.64" width="25.2" height="25.2" fill="#f4cace"/>
<rect x="1509.3" y="803.64" width="25.2" height="25.2" fill="#d9d9ff"/>
<rect x="1538.1" y="803.64" width="25.2" height="25.2" fill="#ededff"/>
<rect x="1566.9" y="803.64" width="25.2" height="25.2" fill="#ffffff"/>
<rect x="1595.7" y="803.64" width="25.2" height="25.2" fill="#e0e0ff"/>
<rect x="1624.5" y="803.64" width="25.2" height="25.2" fill="#fcf2f3"/>
<rect x="1480.5" y="832.52" width="25.2" height="25.2" fill="#d9d9ff"/>
<rect x="1509.3" y="832.52" width="25.2" height="25.2" fill="#fcfcff"/>
<rect x="1538.1" y="832.52" width="25.2" height="25.2" fill="#f8dfe2"/>
<rect x="1566.9" y="832.52" width="25.2" height="25.2" fill="#fefbfb"/>
<rect x="1595.7" y="832.52" width="25.2" height="25.2" fill="#fef9f9"/>
<rect x="1624.5" y="832.52" width="25.2" height="25.2" fill="#fef9f9"/>
<rect x="1480.5" y="861.4" width="25.2" height="25.2" fill="#e0e0ff"/>
<rect x="1509.3" y="861.4" width="25.2" height="25.2" fill="#f0f0ff"/>
<rect x="1538.1" y="861.4" width="25.2" height="25.2" fill="#f7d9dc"/>
<rect x="1566.9" y="861.4" width="25.2" height="25.2" fill="#f5f5ff"/>
<rect x="1595.7" y="861.4" width="25.2" height="25.2" fill="#d4d4ff"/>
<rect x="1624.5" y="861.4" width="25.2" height="25.2" fill="#ffffff"/>
<rect x="1480.5" y="890.28" width="25.2" height="25.2" fill="#ffffff"/>
<rect x="1509.3" y="890.28" width="25.2" height="25.2" fill="#ffffff"/>
<rect x="1538.1" y="890.28" width="25.2" height="25.2" fill="#fffdfd"/>
<rect x="1566.9" y="890.28" width="25.2" height="25.2" fill="#fefbfb"/>
<rect x="1595.7" y="890.28" width="25.2" height="25.2" fill="#fdf4f5"/>
<rect x="1624.5" y="890.28" width="25.2" height="25.2" fill="#fafaff"/>
<rect x="1480.5" y="919.16" width="25.2" height="25.2" fill="#fdf7f7"/>
<rect x="1509.3" y="919.16" width="25.2" height="25.2" fill="#fef9f9"/>
<rect x="1538.1" y="919.16" width="25.2" height="25.2" fill="#f0f0ff"/>
<rect x="1566.9" y="919.16" width="25.2" height="25.2" fill="#ccccff"/>
<rect x="1595.7" y="919.16" width="25.2" height="25.2" fill="#e0e0ff"/>
<rect x="1624.5" y="919.16" width="25.2" height="25.2" fill="#f5f5ff"/>
<rect x="1480.5" y="948.04" width="25.2" height="25.2" fill="#d9d9ff"/>
<rect x="1509.3" y="948.04" width="25.2" height="25.2" fill="#f7d9dc"/>
<rect x="1538.1" y="948.04" width="25.2" height="25.2" fill="#fcfcff"/>
<rect x="1566.9" y="948.04" width="25.2" height="25.2" fill="#fafaff"/>
<rect x="1595.7" y="948.04" width="25.2" height="25.2" fill="#fdf7f7"/>
<rect x="1624.5" y="948.04" width="25.2" height="25.2" fill="#f2f2ff"/>
<rect x="1480.5" y="976.92" width="25.2" height="25.2" fill="#ededff"/>
<rect x="1509.3" y="976.92" width="25.2" height="25.2" fill="#e8e8ff"/>
<rect x="1538.1" y="976.92" width="25.2" height="25.2" fill="#f7d9dc"/>
<rect x="1566.9" y="976.92" width="25.2" height="25.2" fill="#bfbfff"/>
<rect x="1595.7" y="976.92" width="25.2" height="25.2" fill="#fdf7f7"/>
<rect x="1624.5" y="976.92" width="25.2" height="25.2" fill="#f7f7ff"/>
<rect x="1480.5" y="1005.8" width="25.2" height="25.2" fill="#f8dbde"/>
<rect x="1509.3" y="1005.8" width="25.2" height="25.2" fill="#fcf2f3"/>
<rect x="1538.1" y="1005.8" width="25.2" height="25.2" fill="#ccccff"/>
<rect x="1566.9" y="1005.8" width="25.2" height="25.2" fill="#ccccff"/>
<rect x="1595.7" y="1005.8" width="25.2" height="25.2" fill="#f3bdc1"/>
<rect x="1624.5" y="1005.8" width="25.2" height="25.2" fill="#f5f5ff"/>
<rect x="1480.5" y="1034.68" width="25.2" height="25.2" fill="#f1a8ac"/>
<rect x="1509.3" y="1034.68" width="25.2" height="25.2" fill="#adadff"/>
<rect x="1538.1" y="1034.68" width="25.2" height="25.2" fill="#ffffff"/>
<rect x="1566.9" y="1034.68" width="25.2" height="25.2" fill="#ededff"/>
<rect x="1595.7" y="1034.68" width="25.2" height="25.2" fill="#fbeeef"/>
<rect x="1624.5" y="1034.68" width="25.2" height="25.2" fill="#ebebff"/>
<rect x="1480.5" y="1063.56" width="25.2" height="25.2" fill="#fbeeef"/>
<rect x="1509.3" y="1063.56" width="25.2" height="25.2" fill="#f2f2ff"/>
<rect x="1538.1" y="1063.56" width="25.2" height="25.2" fill="#f2f2ff"/>
<rect x="1566.9" y="1063.56" width="25.2" height="25.2" fill="#e6e6ff"/>
<rect x="1595.7" y="1063.56" width="25.2" height="25.2" fill="#e0e0ff"/>
<rect x="1624.5" y="1063.56" width="25.2" height="25.2" fill="#e0e0ff"/>
<rect x="1480.5" y="1092.44" width="25.2" height="25.2" fill="#fcf2f3"/>
<rect x="1509.3" y="1092.44" width="25.2" height="25.2" fill="#ffffff"/>
<rect x="1538.1" y="1092.44" width="25.2" height="25.2" fill="#f2f2ff"/>
<rect x="1566.9" y="1092.44" width="25.2" height="25.2" fill="#dedeff"/>
<rect x="1595.7" y="1092.44" width="25.2" height="25.2" fill="#f0f0ff"/>
<rect x="1624.5" y="1092.44" width="25.2" height="25.2" fill="#e3e3ff"/>
<rect x="1480.5" y="1121.32" width="25.2" height="25.2" fill="#e0e0ff"/>
<rect x="1509.3" y="1121.32" width="25.2" height="25.2" fill="#fcf0f1"/>
<rect x="1538.1" y="1121.32" width="25.2" height="25.2" fill="#fefbfb"/>
<rect x="1566.9" y="1121.32" width="25.2" height="25.2" fill="#b2b2ff"/>
<rect x="1595.7" y="1121.32" width="25.2" height="25.2" fill="#ccccff"/>
<rect x="1624.5" y="1121.32" width="25.2" height="25.2" fill="#e0e0ff"/>
<rect x="1480.5" y="1150.2" width="25.2" height="25.2" fill="#ebebff"/>
<rect x="1509.3" y="1150.2" width="25.2" height="25.2" fill="#fcf2f3"/>
<rect x="1538.1" y="1150.2" width="25.2" height="25.2" fill="#fffdfd"/>
<rect x="1566.9" y="1150.2" width="25.2" height="25.2" fill="#ccccff"/>
<rect x="1595.7" y="1150.2" width="25.2" height="25.2" fill="#bfbfff"/>
<rect x="1624.5" y="1150.2" width="25.2" height="25.2" fill="#d9d9ff"/>
<rect x="1480.5" y="1179.08" width="25.2" height="25.2" fill="#fcf0f1"/>
<rect x="1509.3" y="1179.08" width="25.2" height="25.2" fill="#d9d9ff"/>
<rect x="1538.1" y="1179.08" width="25.2" height="25.2" fill="#fdf4f5"/>
<rect x="1566.9" y="1179.08" width="25.2" height="25.2" fill="#c7c7ff"/>
<rect x="1595.7" y="1179.08" width="25.2" height="25.2" fill="#b8b8ff"/>
<rect x="1624.5" y="1179.08" width="25.2" height="25.2" fill="#d9d9ff"/>
<rect x="1480.5" y="1207.96" width="25.2" height="25.2" fill="#fbeeef"/>
<rect x="1509.3" y="1207.96" width="25.2" height="25.2" fill="#fcf0f1"/>
<rect x="1538.1" y="1207.96" width="25.2" height="25.2" fill="#d9d9ff"/>
<rect x="1566.9" y="1207.96" width="25.2" height="25.2" fill="#bfbfff"/>
<rect x="1595.7" y="1207.96" width="25.2" height="25.2" fill="#ccccff"/>
<rect x="1624.5" y="1207.96" width="25.2" height="25.2" fill="#d9d9ff"/>
<rect x="1480.5" y="1236.84" width="25.2" height="25.2" fill="#f5f5ff"/>
<rect x="1509.3" y="1236.84" width="25.2" height="25.2" fill="#ededff"/>
<rect x="1538.1" y="1236.84" width="25.2" height="25.2" fill="#fbeaeb"/>
<rect x="1566.9" y="1236.84" width="25.2" height="25.2" fill="#adadff"/>
<rect x="1595.7" y="1236.84" width="25.2" height="25.2" fill="#f2f2ff"/>
<rect x="1624.5" y="1236.84" width="25.2" height="25.2" fill="#d1d1ff"/>
<rect x="1480.5" y="1265.72" width="25.2" height="25.2" fill="#fefbfb"/>
<rect x="1509.3" y="1265.72" width="25.2" height="25.2" fill="#ededff"/>
<rect x="1538.1" y="1265.72" width="25.2" height="25.2" fill="#fdf7f7"/>
<rect x="1566.9" y="1265.72" width="25.2" height="25.2" fill="#d9d9ff"/>
<rect x="1595.7" y="1265.72" width="25.2" height="25.2" fill="#bfbfff"/>
<rect x="1624.5" y="1265.72" width="25.2" height="25.2" fill="#c7c7ff"/>
<rect x="1480.5" y="1294.6" width="25.2" height="25.2" fill="#fdf7f7"/>
<rect x="1509.3" y="1294.6" width="25.2" height="25.2" fill="#ffffff"/>
<rect x="1538.1" y="1294.6" width="25.2" height="25.2" fill="#f7f7ff"/>
<rect x="1566.9" y="1294.6" width="25.2" height="25.2" fill="#ccccff"/>
<rect x="1595.7" y="1294.6" width="25.2" height="25.2" fill="#d6d6ff"/>
<rect x="1624.5" y="1294.6" width="25.2" height="25.2" fill="#bfbfff"/>
<rect x="1480.5" y="1323.48" width="25.2" height="25.2" fill="#fef9f9"/>
<rect x="1509.3" y="1323.48" width="25.2" height="25.2" fill="#c7c7ff"/>
<rect x="1538.1" y="1323.48" width="25.2" height="25.2" fill="#fae6e7"/>
<rect x="1566.9" y="1323.48" width="25.2" height="25.2" fill="#d1d1ff"/>
<rect x="1595.7" y="1323.48" width="25.2" height="25.2" fill="#c7c7ff"/>
<rect x="1624.5" y="1323.48" width="25.2" height="25.2" fill="#b8b8ff"/>
<rect x="1480.5" y="1352.36" width="25.2" height="25.2" fill="#f7f7ff"/>
<rect x="1509.3" y="1352.36" width="25.2" height="25.2" fill="#fef9f9"/>
<rect x="1538.1" y="1352.36" width="25.2" height="25.2" fill="#ffffff"/>
<rect x="1566.9" y="1352.36" width="25.2" height="25.2" fill="#b8b8ff"/>
<rect x="1595.7" y="1352.36" width="25.2" height="25.2" fill="#b2b2ff"/>
<rect x="1624.5" y="1352.36" width="25.2" height="25.2" fill="#9e9eff"/>
<rect x="1480.5" y="1381.24" width="25.2" height="25.2" fill="#fae6e7"/>
<rect x="1509.3" y="1381.24" width="25.2" height="25.2" fill="#fefbfb"/>
<rect x="1538.1" y="1381.24" width="25.2" height="25.2" fill="#e0e0ff"/>
<rect x="1566.9" y="1381.24" width="25.2" height="25.2" fill="#a3a3ff"/>
<rect x="1595.7" y="1381.24" width="25.2" height="25.2" fill="#a8a8ff"/>
<rect x="1624.5" y="1381.24" width="25.2" height="25.2" fill="#9e9eff"/>
<rect x="1480.5" y="1410.12" width="25.2" height="25.2" fill="#f8dfe2"/>
<rect x="1509.3" y="1410.12" width="25.2" height="25.2" fill="#d9d9ff"/>
<rect x="1538.1" y="1410.12" width="25.2" height="25.2" fill="#ffffff"/>
<rect x="1566.9" y="1410.12" width="25.2" height="25.2" fill="#8c8cff"/>
<rect x="1595.7" y="1410.12" width="25.2" height="25.2" fill="#8a8aff"/>
<rect x="1624.5" y="1410.12" width="25.2" height="25.2" fill="#9999ff"/>
<rect x="1480.5" y="1439" width="25.2" height="25.2" fill="#f7f7ff"/>
<rect x="1509.3" y="1439" width="25.2" height="25.2" fill="#fcf2f3"/>
<rect x="1538.1" y="1439" width="25.2" height="25.2" fill="#fafaff"/>
<rect x="1566.9" y="1439" width="25.2" height="25.2" fill="#9999ff"/>
<rect x="1595.7" y="1439" width="25.2" height="25.2" fill="#8f8fff"/>
<rect x="1624.5" y="1439" width="25.2" height="25.2" fill="#9494ff"/>
<rect x="1480.5" y="1467.88" width="25.2" height="25.2" fill="#ededff"/>
<rect x="1509.3" y="1467.88" width="25.2" height="25.2" fill="#f7d9dc"/>
<rect x="1538.1" y="1467.88" width="25.2" height="25.2" fill="#e6e6ff"/>
<rect x="1566.9" y="1467.88" width="25.2" height="25.2" fill="#8f8fff"/>
<rect x="1595.7" y="1467.88" width="25.2" height="25.2" fill="#7878ff"/>
<rect x="1624.5" y="1467.88" width="25.2" height="25.2" fill="#8585ff"/>
<rect x="1480.5" y="1496.76" width="25.2" height="25.2" fill="#a6a6ff"/>
<rect x="1509.3" y="1496.76" width="25.2" height="25.2" fill="#f8dfe2"/>
<rect x="1538.1" y="1496.76" width="25.2" height="25.2" fill="#f8dfe2"/>
<rect x="1566.9" y="1496.76" width="25.2" height="25.2" fill="#8080ff"/>
<rect x="1595.7" y="1496.76" width="25.2" height="25.2" fill="#7a7aff"/>
<rect x="1624.5" y="1496.76" width="25.2" height="25.2" fill="#6161ff"/>
<rect x="1480.5" y="1525.64" width="25.2" height="25.2" fill="#fae6e7"/>
<rect x="1509.3" y="1525.64" width="25.2" height="25.2" fill="#c7c7ff"/>
<rect x="1538.1" y="1525.64" width="25.2" height="25.2" fill="#fbeeef"/>
<rect x="1566.9" y="1525.64" width="25.2" height="25.2" fill="#5959ff"/>
<rect x="1595.7" y="1525.64" width="25.2" height="25.2" fill="#5959ff"/>
<rect x="1624.5" y="1525.64" width="25.2" height="25.2" fill="#5454ff"/>
<line x1="1666.26" y1="310.84" x2="1795.23" y2="310.84" stroke="#ececec" stroke-width="1"/>
<line x1="1666.26" y1="339.72" x2="1795.23" y2="339.72" stroke="#ececec" stroke-width="1"/>
<line x1="1666.26" y1="368.6" x2="1795.23" y2="368.6" stroke="#ececec" stroke-width="1"/>
<line x1="1666.26" y1="397.48" x2="1795.23" y2="397.48" stroke="#ececec" stroke-width="1"/>
<line x1="1666.26" y1="426.36" x2="1795.23" y2="426.36" stroke="#ececec" stroke-width="1"/>
<line x1="1666.26" y1="455.24" x2="1795.23" y2="455.24" stroke="#ececec" stroke-width="1"/>
<line x1="1666.26" y1="484.12" x2="1795.23" y2="484.12" stroke="#ececec" stroke-width="1"/>
<line x1="1666.26" y1="513" x2="1795.23" y2="513" stroke="#ececec" stroke-width="1"/>
<line x1="1666.26" y1="541.88" x2="1795.23" y2="541.88" stroke="#ececec" stroke-width="1"/>
<line x1="1666.26" y1="570.76" x2="1795.23" y2="570.76" stroke="#ececec" stroke-width="1"/>
<line x1="1666.26" y1="599.64" x2="1795.23" y2="599.64" stroke="#ececec" stroke-width="1"/>
<line x1="1666.26" y1="628.52" x2="1795.23" y2="628.52" stroke="#ececec" stroke-width="1"/>
<line x1="1666.26" y1="657.4" x2="1795.23" y2="657.4" stroke="#ececec" stroke-width="1"/>
<line x1="1666.26" y1="686.28" x2="1795.23" y2="686.28" stroke="#ececec" stroke-width="1"/>
<line x1="1666.26" y1="715.16" x2="1795.23" y2="715.16" stroke="#ececec" stroke-width="1"/>
<line x1="1666.26" y1="744.04" x2="1795.23" y2="744.04" stroke="#ececec" stroke-width="1"/>
<line x1="1666.26" y1="772.92" x2="1795.23" y2="772.92" stroke="#ececec" stroke-width="1"/>
<line x1="1666.26" y1="801.8" x2="1795.23" y2="801.8" stroke="#ececec" stroke-width="1"/>
<line x1="1666.26" y1="830.68" x2="1795.23" y2="830.68" stroke="#ececec" stroke-width="1"/>
<line x1="1666.26" y1="859.56" x2="1795.23" y2="859.56" stroke="#ececec" stroke-width="1"/>
<line x1="1666.26" y1="888.44" x2="1795.23" y2="888.44" stroke="#ececec" stroke-width="1"/>
<line x1="1666.26" y1="917.32" x2="1795.23" y2="917.32" stroke="#ececec" stroke-width="1"/>
<line x1="1666.26" y1="946.2" x2="1795.23" y2="946.2" stroke="#ececec" stroke-width="1"/>
<line x1="1666.26" y1="975.08" x2="1795.23" y2="975.08" stroke="#ececec" stroke-width="1"/>
<line x1="1666.26" y1="1003.96" x2="1795.23" y2="1003.96" stroke="#ececec" stroke-width="1"/>
<line x1="1666.26" y1="1032.84" x2="1795.23" y2="1032.84" stroke="#ececec" stroke-width="1"/>
<line x1="1666.26" y1="1061.72" x2="1795.23" y2="1061.72" stroke="#ececec" stroke-width="1"/>
<line x1="1666.26" y1="1090.6" x2="1795.23" y2="1090.6" stroke="#ececec" stroke-width="1"/>
<line x1="1666.26" y1="1119.48" x2="1795.23" y2="1119.48" stroke="#ececec" stroke-width="1"/>
<line x1="1666.26" y1="1148.36" x2="1795.23" y2="1148.36" stroke="#ececec" stroke-width="1"/>
<line x1="1666.26" y1="1177.24" x2="1795.23" y2="1177.24" stroke="#ececec" stroke-width="1"/>
<line x1="1666.26" y1="1206.12" x2="1795.23" y2="1206.12" stroke="#ececec" stroke-width="1"/>
<line x1="1666.26" y1="1235" x2="1795.23" y2="1235" stroke="#ececec" stroke-width="1"/>
<line x1="1666.26" y1="1263.88" x2="1795.23" y2="1263.88" stroke="#ececec" stroke-width="1"/>
<line x1="1666.26" y1="1292.76" x2="1795.23" y2="1292.76" stroke="#ececec" stroke-width="1"/>
<line x1="1666.26" y1="1321.64" x2="1795.23" y2="1321.64" stroke="#ececec" stroke-width="1"/>
<line x1="1666.26" y1="1350.52" x2="1795.23" y2="1350.52" stroke="#ececec" stroke-width="1"/>
<line x1="1666.26" y1="1379.4" x2="1795.23" y2="1379.4" stroke="#ececec" stroke-width="1"/>
<line x1="1666.26" y1="1408.28" x2="1795.23" y2="1408.28" stroke="#ececec" stroke-width="1"/>
<line x1="1666.26" y1="1437.16" x2="1795.23" y2="1437.16" stroke="#ececec" stroke-width="1"/>
<line x1="1666.26" y1="1466.04" x2="1795.23" y2="1466.04" stroke="#ececec" stroke-width="1"/>
<line x1="1666.26" y1="1494.92" x2="1795.23" y2="1494.92" stroke="#ececec" stroke-width="1"/>
<line x1="1666.26" y1="1523.8" x2="1795.23" y2="1523.8" stroke="#ececec" stroke-width="1"/>
<line x1="1666.26" y1="1552.68" x2="1795.23" y2="1552.68" stroke="#ececec" stroke-width="1"/>
<g font-family="'Liberation Sans', Arial, Helvetica, sans-serif" font-size="24.96" fill="#111">
<text x="1665.56" y="303.27">C32H11.4</text>
<text x="1665.56" y="332.15">F55G11.2</text>
<text x="1665.56" y="361.03">F35E12.5</text>
<text x="1665.56" y="389.91">dod-17</text>
<text x="1665.56" y="418.79">dod-24</text>
<text x="1665.56" y="447.67">F08G5.6</text>
<text x="1665.56" y="476.55">ugt-53</text>
<text x="1665.56" y="505.43">pho-1</text>
<text x="1665.56" y="534.31">oac-6</text>
<text x="1665.56" y="563.19">pho-8</text>
<text x="1665.56" y="592.07">F08A8.2</text>
<text x="1665.56" y="620.95">ncx-6</text>
<text x="1665.56" y="649.83">F55G11.8</text>
<text x="1665.56" y="678.71">nep-17</text>
<text x="1665.56" y="707.59">cyp-13A2</text>
<text x="1665.56" y="736.47">nrf-6</text>
<text x="1665.56" y="765.35">nuc-1</text>
<text x="1665.56" y="794.23">amt-4</text>
<text x="1665.56" y="823.11">dct-18</text>
<text x="1665.56" y="851.99">oac-59</text>
<text x="1665.56" y="880.87">nhx-2</text>
<text x="1665.56" y="909.75">dpyd-1</text>
<text x="1665.56" y="938.63">T25C12.3</text>
<text x="1665.56" y="967.51">F35E12.9</text>
<text x="1665.56" y="996.39">dod-22</text>
<text x="1665.56" y="1025.27">cyp-35A3</text>
<text x="1665.56" y="1054.15">cpr-5</text>
<text x="1665.56" y="1083.03">ZC416.6</text>
<text x="1665.56" y="1111.91">vha-6</text>
<text x="1665.56" y="1140.79">K10D11.5</text>
<text x="1665.56" y="1169.67">ZK6.11</text>
<text x="1665.56" y="1198.55">F28H7.3</text>
<text x="1665.56" y="1227.43">clec-265</text>
<text x="1665.56" y="1256.31">W02B12.1</text>
<text x="1665.56" y="1285.19">gale-1</text>
<text x="1665.56" y="1314.07">dod-23</text>
<text x="1665.56" y="1342.95">pept-1</text>
<text x="1665.56" y="1371.83">C10C5.4</text>
<text x="1665.56" y="1400.71">oac-20</text>
<text x="1665.56" y="1429.59">F49F1.1</text>
<text x="1665.56" y="1458.47">T05E12.3</text>
<text x="1665.56" y="1487.35">F19C7.2</text>
<text x="1665.56" y="1516.23">ins-7</text>
<text x="1665.56" y="1545.11">T24B8.5</text>
</g>
</svg>
</body></html>
